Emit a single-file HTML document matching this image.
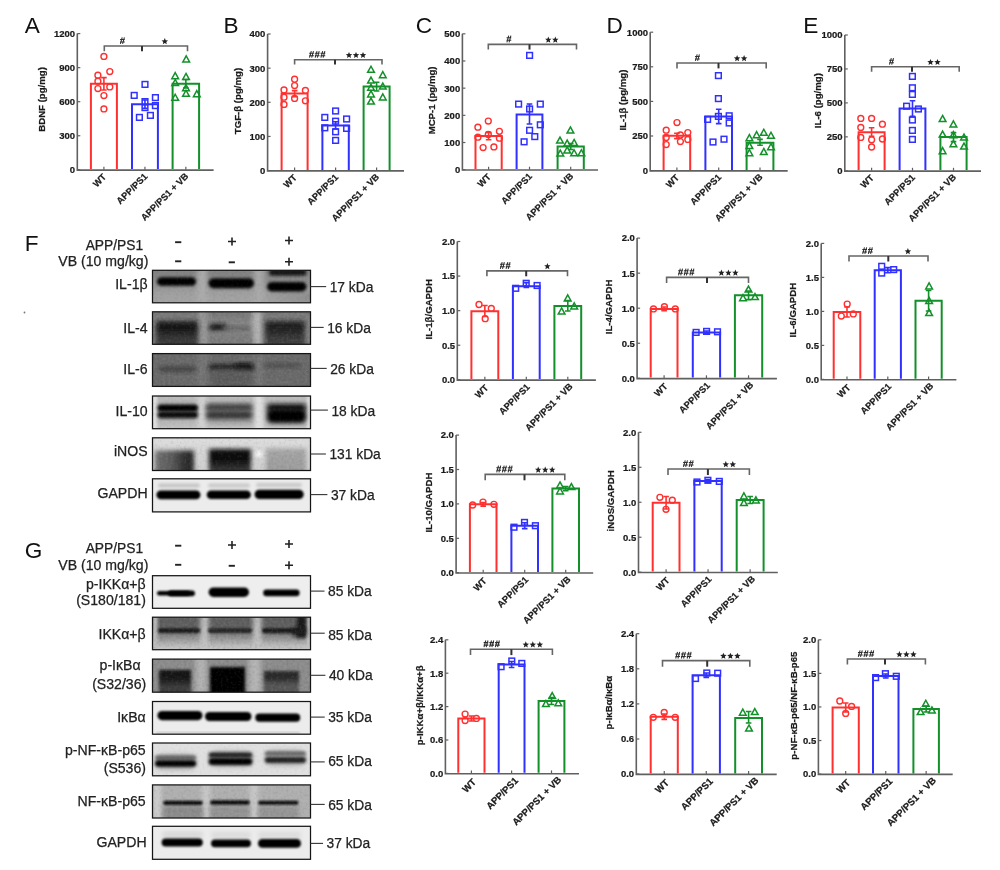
<!DOCTYPE html>
<html><head><meta charset="utf-8"><style>
html,body{margin:0;padding:0;background:#fff;}
body{width:1000px;height:870px;overflow:hidden;font-family:"Liberation Sans", sans-serif;}
svg{display:block;will-change:transform;}
</style></head><body>
<svg width="1000" height="870" viewBox="0 0 1000 870" font-family='"Liberation Sans", sans-serif'>
<rect width="1000" height="870" fill="#ffffff"/>
<text x="24.8" y="32.8" font-size="22.6" font-weight="normal" text-anchor="start" fill="#111">A</text>
<text x="223.5" y="32.8" font-size="22.6" font-weight="normal" text-anchor="start" fill="#111">B</text>
<text x="415.8" y="32.8" font-size="22.6" font-weight="normal" text-anchor="start" fill="#111">C</text>
<text x="606.4" y="32.8" font-size="22.6" font-weight="normal" text-anchor="start" fill="#111">D</text>
<text x="803.2" y="32.8" font-size="22.6" font-weight="normal" text-anchor="start" fill="#111">E</text>
<text x="24.8" y="251" font-size="22.6" font-weight="normal" text-anchor="start" fill="#111">F</text>
<text x="24.8" y="558" font-size="22.6" font-weight="normal" text-anchor="start" fill="#111">G</text>
<path d="M77.3 33.6 V170.1 H213.6" stroke="#606060" stroke-width="1.6" fill="none"/>
<line x1="77.3" y1="169.8" x2="80.3" y2="169.8" stroke="#606060" stroke-width="1.2"/>
<text x="75.1" y="173.15" font-size="9.5" font-weight="bold" text-anchor="end" fill="#1a1a1a" stroke="#1a1a1a" stroke-width="0.22">0</text>
<line x1="77.3" y1="135.75" x2="80.3" y2="135.75" stroke="#606060" stroke-width="1.2"/>
<text x="75.1" y="139.1" font-size="9.5" font-weight="bold" text-anchor="end" fill="#1a1a1a" stroke="#1a1a1a" stroke-width="0.22">300</text>
<line x1="77.3" y1="101.7" x2="80.3" y2="101.7" stroke="#606060" stroke-width="1.2"/>
<text x="75.1" y="105.05" font-size="9.5" font-weight="bold" text-anchor="end" fill="#1a1a1a" stroke="#1a1a1a" stroke-width="0.22">600</text>
<line x1="77.3" y1="67.65" x2="80.3" y2="67.65" stroke="#606060" stroke-width="1.2"/>
<text x="75.1" y="71" font-size="9.5" font-weight="bold" text-anchor="end" fill="#1a1a1a" stroke="#1a1a1a" stroke-width="0.22">900</text>
<line x1="77.3" y1="33.6" x2="80.3" y2="33.6" stroke="#606060" stroke-width="1.2"/>
<text x="75.1" y="36.95" font-size="9.5" font-weight="bold" text-anchor="end" fill="#1a1a1a" stroke="#1a1a1a" stroke-width="0.22">1200</text>
<line x1="103.9" y1="169.8" x2="103.9" y2="166.8" stroke="#606060" stroke-width="1.2"/>
<line x1="144.95" y1="169.8" x2="144.95" y2="166.8" stroke="#606060" stroke-width="1.2"/>
<line x1="185.85" y1="169.8" x2="185.85" y2="166.8" stroke="#606060" stroke-width="1.2"/>
<path d="M90.9 169.1 V83.7 H116.9 V169.1" stroke="#ff3030" stroke-width="2" fill="none"/>
<path d="M132 169.1 V104.2 H157.9 V169.1" stroke="#3030ff" stroke-width="2" fill="none"/>
<path d="M172.6 169.1 V83.7 H199.1 V169.1" stroke="#13902a" stroke-width="2" fill="none"/>
<circle cx="103.9" cy="56.4" r="2.95" fill="none" stroke="#ff3030" stroke-width="1.4"/>
<circle cx="109.8" cy="71.6" r="2.95" fill="none" stroke="#ff3030" stroke-width="1.4"/>
<circle cx="97.9" cy="75.2" r="2.95" fill="none" stroke="#ff3030" stroke-width="1.4"/>
<circle cx="97.9" cy="81.2" r="2.95" fill="none" stroke="#ff3030" stroke-width="1.4"/>
<circle cx="97.9" cy="88.6" r="2.95" fill="none" stroke="#ff3030" stroke-width="1.4"/>
<circle cx="109.8" cy="86.9" r="2.95" fill="none" stroke="#ff3030" stroke-width="1.4"/>
<circle cx="103.9" cy="95.6" r="2.95" fill="none" stroke="#ff3030" stroke-width="1.4"/>
<circle cx="103.9" cy="108.9" r="2.95" fill="none" stroke="#ff3030" stroke-width="1.4"/>
<rect x="142.15" y="81.55" width="5.7" height="5.7" fill="none" stroke="#3030ff" stroke-width="1.5"/>
<rect x="131.35" y="92.55" width="5.7" height="5.7" fill="none" stroke="#3030ff" stroke-width="1.5"/>
<rect x="152.55" y="94.75" width="5.7" height="5.7" fill="none" stroke="#3030ff" stroke-width="1.5"/>
<rect x="142.15" y="98.75" width="5.7" height="5.7" fill="none" stroke="#3030ff" stroke-width="1.5"/>
<rect x="152.55" y="102.75" width="5.7" height="5.7" fill="none" stroke="#3030ff" stroke-width="1.5"/>
<rect x="142.15" y="104.75" width="5.7" height="5.7" fill="none" stroke="#3030ff" stroke-width="1.5"/>
<rect x="136.55" y="114.55" width="5.7" height="5.7" fill="none" stroke="#3030ff" stroke-width="1.5"/>
<rect x="147.55" y="112.55" width="5.7" height="5.7" fill="none" stroke="#3030ff" stroke-width="1.5"/>
<path d="M186.2 55.84 L189.56 61.92 L182.84 61.92 Z" fill="none" stroke="#13902a" stroke-width="1.5" stroke-linejoin="miter"/>
<path d="M175.2 72.64 L178.56 78.72 L171.84 78.72 Z" fill="none" stroke="#13902a" stroke-width="1.5" stroke-linejoin="miter"/>
<path d="M186 73.44 L189.36 79.52 L182.64 79.52 Z" fill="none" stroke="#13902a" stroke-width="1.5" stroke-linejoin="miter"/>
<path d="M175.2 79.44 L178.56 85.52 L171.84 85.52 Z" fill="none" stroke="#13902a" stroke-width="1.5" stroke-linejoin="miter"/>
<path d="M186 84.64 L189.36 90.72 L182.64 90.72 Z" fill="none" stroke="#13902a" stroke-width="1.5" stroke-linejoin="miter"/>
<path d="M186 90.24 L189.36 96.32 L182.64 96.32 Z" fill="none" stroke="#13902a" stroke-width="1.5" stroke-linejoin="miter"/>
<path d="M175.2 94.24 L178.56 100.32 L171.84 100.32 Z" fill="none" stroke="#13902a" stroke-width="1.5" stroke-linejoin="miter"/>
<path d="M196.8 90.64 L200.16 96.72 L193.44 96.72 Z" fill="none" stroke="#13902a" stroke-width="1.5" stroke-linejoin="miter"/>
<path d="M103.9 77.6 V90 M101.1 77.6 H106.7 M101.1 90 H106.7" stroke="#ff3030" stroke-width="1.6" fill="none"/>
<path d="M144.95 100 V108.4 M142.15 100 H147.75 M142.15 108.4 H147.75" stroke="#3030ff" stroke-width="1.6" fill="none"/>
<path d="M185.85 79.5 V88 M183.05 79.5 H188.65 M183.05 88 H188.65" stroke="#13902a" stroke-width="1.6" fill="none"/>
<path d="M104.3 51.2 V46 H187.5 V51.2" stroke="#666666" stroke-width="1.6" fill="none"/>
<path d="M142 46 V51.2" stroke="#333" stroke-width="2" fill="none"/>
<path d="M122.2 37.3 L120.4 43.9 M124.4 37.3 L122.6 43.9 M120.05 39.4 H124.75 M120.05 41.9 H124.75" stroke="#2e2e2e" stroke-width="1.05" fill="none"/>
<polygon points="164.8,38.1 165.7,40.26 168.03,40.45 166.26,41.97 166.8,44.25 164.8,43.03 162.8,44.25 163.34,41.97 161.57,40.45 163.9,40.26" fill="#222"/>
<text x="44.7" y="99.4" font-size="9.65" font-weight="bold" text-anchor="middle" fill="#1a1a1a" transform="rotate(-90 44.7 99.4)" stroke="#1a1a1a" stroke-width="0.22">BDNF (pg/mg)</text>
<text x="106.9" y="177.5" font-size="9.3" font-weight="bold" text-anchor="end" fill="#1a1a1a" transform="rotate(-45 106.9 177.5)" stroke="#1a1a1a" stroke-width="0.22">WT</text>
<text x="148.15" y="177" font-size="9.3" font-weight="bold" text-anchor="end" fill="#1a1a1a" transform="rotate(-45 148.15 177)" stroke="#1a1a1a" stroke-width="0.22">APP/PS1</text>
<text x="189.05" y="176.8" font-size="9.3" font-weight="bold" text-anchor="end" fill="#1a1a1a" transform="rotate(-45 189.05 176.8)" stroke="#1a1a1a" stroke-width="0.22">APP/PS1 + VB</text>
<path d="M267.6 34 V170.9 H404" stroke="#606060" stroke-width="1.6" fill="none"/>
<line x1="267.6" y1="170.6" x2="270.6" y2="170.6" stroke="#606060" stroke-width="1.2"/>
<text x="265.4" y="173.95" font-size="9.5" font-weight="bold" text-anchor="end" fill="#1a1a1a" stroke="#1a1a1a" stroke-width="0.22">0</text>
<line x1="267.6" y1="136.45" x2="270.6" y2="136.45" stroke="#606060" stroke-width="1.2"/>
<text x="265.4" y="139.8" font-size="9.5" font-weight="bold" text-anchor="end" fill="#1a1a1a" stroke="#1a1a1a" stroke-width="0.22">100</text>
<line x1="267.6" y1="102.3" x2="270.6" y2="102.3" stroke="#606060" stroke-width="1.2"/>
<text x="265.4" y="105.65" font-size="9.5" font-weight="bold" text-anchor="end" fill="#1a1a1a" stroke="#1a1a1a" stroke-width="0.22">200</text>
<line x1="267.6" y1="68.15" x2="270.6" y2="68.15" stroke="#606060" stroke-width="1.2"/>
<text x="265.4" y="71.5" font-size="9.5" font-weight="bold" text-anchor="end" fill="#1a1a1a" stroke="#1a1a1a" stroke-width="0.22">300</text>
<line x1="267.6" y1="34" x2="270.6" y2="34" stroke="#606060" stroke-width="1.2"/>
<text x="265.4" y="37.35" font-size="9.5" font-weight="bold" text-anchor="end" fill="#1a1a1a" stroke="#1a1a1a" stroke-width="0.22">400</text>
<line x1="294.6" y1="170.6" x2="294.6" y2="167.6" stroke="#606060" stroke-width="1.2"/>
<line x1="335.6" y1="170.6" x2="335.6" y2="167.6" stroke="#606060" stroke-width="1.2"/>
<line x1="376.6" y1="170.6" x2="376.6" y2="167.6" stroke="#606060" stroke-width="1.2"/>
<path d="M281.6 169.9 V93.6 H307.6 V169.9" stroke="#ff3030" stroke-width="2" fill="none"/>
<path d="M322.4 169.9 V125.4 H348.8 V169.9" stroke="#3030ff" stroke-width="2" fill="none"/>
<path d="M363.6 169.9 V86.6 H389.6 V169.9" stroke="#13902a" stroke-width="2" fill="none"/>
<circle cx="294.6" cy="79.2" r="2.95" fill="none" stroke="#ff3030" stroke-width="1.4"/>
<circle cx="294.6" cy="85.6" r="2.95" fill="none" stroke="#ff3030" stroke-width="1.4"/>
<circle cx="284" cy="90" r="2.95" fill="none" stroke="#ff3030" stroke-width="1.4"/>
<circle cx="305.4" cy="90.4" r="2.95" fill="none" stroke="#ff3030" stroke-width="1.4"/>
<circle cx="284" cy="97.2" r="2.95" fill="none" stroke="#ff3030" stroke-width="1.4"/>
<circle cx="294.6" cy="98.4" r="2.95" fill="none" stroke="#ff3030" stroke-width="1.4"/>
<circle cx="305.4" cy="100.8" r="2.95" fill="none" stroke="#ff3030" stroke-width="1.4"/>
<circle cx="284" cy="104.4" r="2.95" fill="none" stroke="#ff3030" stroke-width="1.4"/>
<rect x="332.75" y="108.15" width="5.7" height="5.7" fill="none" stroke="#3030ff" stroke-width="1.5"/>
<rect x="321.95" y="114.55" width="5.7" height="5.7" fill="none" stroke="#3030ff" stroke-width="1.5"/>
<rect x="343.75" y="116.15" width="5.7" height="5.7" fill="none" stroke="#3030ff" stroke-width="1.5"/>
<rect x="332.75" y="118.35" width="5.7" height="5.7" fill="none" stroke="#3030ff" stroke-width="1.5"/>
<rect x="321.95" y="124.95" width="5.7" height="5.7" fill="none" stroke="#3030ff" stroke-width="1.5"/>
<rect x="343.75" y="125.55" width="5.7" height="5.7" fill="none" stroke="#3030ff" stroke-width="1.5"/>
<rect x="332.75" y="128.95" width="5.7" height="5.7" fill="none" stroke="#3030ff" stroke-width="1.5"/>
<rect x="332.75" y="137.55" width="5.7" height="5.7" fill="none" stroke="#3030ff" stroke-width="1.5"/>
<path d="M371 66.24 L374.36 72.32 L367.64 72.32 Z" fill="none" stroke="#13902a" stroke-width="1.5" stroke-linejoin="miter"/>
<path d="M382.8 71.64 L386.16 77.72 L379.44 77.72 Z" fill="none" stroke="#13902a" stroke-width="1.5" stroke-linejoin="miter"/>
<path d="M371 77.04 L374.36 83.12 L367.64 83.12 Z" fill="none" stroke="#13902a" stroke-width="1.5" stroke-linejoin="miter"/>
<path d="M382.8 83.04 L386.16 89.12 L379.44 89.12 Z" fill="none" stroke="#13902a" stroke-width="1.5" stroke-linejoin="miter"/>
<path d="M371 84.24 L374.36 90.32 L367.64 90.32 Z" fill="none" stroke="#13902a" stroke-width="1.5" stroke-linejoin="miter"/>
<path d="M371 90.84 L374.36 96.92 L367.64 96.92 Z" fill="none" stroke="#13902a" stroke-width="1.5" stroke-linejoin="miter"/>
<path d="M382.8 93.84 L386.16 99.92 L379.44 99.92 Z" fill="none" stroke="#13902a" stroke-width="1.5" stroke-linejoin="miter"/>
<path d="M371 98.04 L374.36 104.12 L367.64 104.12 Z" fill="none" stroke="#13902a" stroke-width="1.5" stroke-linejoin="miter"/>
<path d="M294.6 90.6 V96.6 M291.8 90.6 H297.4 M291.8 96.6 H297.4" stroke="#ff3030" stroke-width="1.6" fill="none"/>
<path d="M335.6 121.8 V129 M332.8 121.8 H338.4 M332.8 129 H338.4" stroke="#3030ff" stroke-width="1.6" fill="none"/>
<path d="M376.6 82.2 V91 M373.8 82.2 H379.4 M373.8 91 H379.4" stroke="#13902a" stroke-width="1.6" fill="none"/>
<path d="M294.6 64.6 V59.8 H382 V64.6" stroke="#666666" stroke-width="1.6" fill="none"/>
<path d="M335 59.8 V64.6" stroke="#333" stroke-width="2" fill="none"/>
<path d="M311.3 51.1 L309.5 57.7 M313.5 51.1 L311.7 57.7 M309.15 53.2 H313.85 M309.15 55.7 H313.85" stroke="#2e2e2e" stroke-width="1.05" fill="none"/>
<path d="M317 51.1 L315.2 57.7 M319.2 51.1 L317.4 57.7 M314.85 53.2 H319.55 M314.85 55.7 H319.55" stroke="#2e2e2e" stroke-width="1.05" fill="none"/>
<path d="M322.7 51.1 L320.9 57.7 M324.9 51.1 L323.1 57.7 M320.55 53.2 H325.25 M320.55 55.7 H325.25" stroke="#2e2e2e" stroke-width="1.05" fill="none"/>
<polygon points="349,51.9 349.9,54.06 352.23,54.25 350.46,55.77 351,58.05 349,56.83 347,58.05 347.54,55.77 345.77,54.25 348.1,54.06" fill="#222"/>
<polygon points="356,51.9 356.9,54.06 359.23,54.25 357.46,55.77 358,58.05 356,56.83 354,58.05 354.54,55.77 352.77,54.25 355.1,54.06" fill="#222"/>
<polygon points="363,51.9 363.9,54.06 366.23,54.25 364.46,55.77 365,58.05 363,56.83 361,58.05 361.54,55.77 359.77,54.25 362.1,54.06" fill="#222"/>
<text x="240.8" y="101" font-size="9.65" font-weight="bold" text-anchor="middle" fill="#1a1a1a" transform="rotate(-90 240.8 101)" stroke="#1a1a1a" stroke-width="0.22">TGF-β (pg/mg)</text>
<text x="297.6" y="178.3" font-size="9.3" font-weight="bold" text-anchor="end" fill="#1a1a1a" transform="rotate(-45 297.6 178.3)" stroke="#1a1a1a" stroke-width="0.22">WT</text>
<text x="338.8" y="177.8" font-size="9.3" font-weight="bold" text-anchor="end" fill="#1a1a1a" transform="rotate(-45 338.8 177.8)" stroke="#1a1a1a" stroke-width="0.22">APP/PS1</text>
<text x="379.8" y="177.6" font-size="9.3" font-weight="bold" text-anchor="end" fill="#1a1a1a" transform="rotate(-45 379.8 177.6)" stroke="#1a1a1a" stroke-width="0.22">APP/PS1 + VB</text>
<path d="M462.4 33.8 V170 H598" stroke="#606060" stroke-width="1.6" fill="none"/>
<line x1="462.4" y1="169.7" x2="465.4" y2="169.7" stroke="#606060" stroke-width="1.2"/>
<text x="460.2" y="173.05" font-size="9.5" font-weight="bold" text-anchor="end" fill="#1a1a1a" stroke="#1a1a1a" stroke-width="0.22">0</text>
<line x1="462.4" y1="142.52" x2="465.4" y2="142.52" stroke="#606060" stroke-width="1.2"/>
<text x="460.2" y="145.87" font-size="9.5" font-weight="bold" text-anchor="end" fill="#1a1a1a" stroke="#1a1a1a" stroke-width="0.22">100</text>
<line x1="462.4" y1="115.34" x2="465.4" y2="115.34" stroke="#606060" stroke-width="1.2"/>
<text x="460.2" y="118.69" font-size="9.5" font-weight="bold" text-anchor="end" fill="#1a1a1a" stroke="#1a1a1a" stroke-width="0.22">200</text>
<line x1="462.4" y1="88.16" x2="465.4" y2="88.16" stroke="#606060" stroke-width="1.2"/>
<text x="460.2" y="91.51" font-size="9.5" font-weight="bold" text-anchor="end" fill="#1a1a1a" stroke="#1a1a1a" stroke-width="0.22">300</text>
<line x1="462.4" y1="60.98" x2="465.4" y2="60.98" stroke="#606060" stroke-width="1.2"/>
<text x="460.2" y="64.33" font-size="9.5" font-weight="bold" text-anchor="end" fill="#1a1a1a" stroke="#1a1a1a" stroke-width="0.22">400</text>
<line x1="462.4" y1="33.8" x2="465.4" y2="33.8" stroke="#606060" stroke-width="1.2"/>
<text x="460.2" y="37.15" font-size="9.5" font-weight="bold" text-anchor="end" fill="#1a1a1a" stroke="#1a1a1a" stroke-width="0.22">500</text>
<line x1="488.6" y1="169.7" x2="488.6" y2="166.7" stroke="#606060" stroke-width="1.2"/>
<line x1="529.5" y1="169.7" x2="529.5" y2="166.7" stroke="#606060" stroke-width="1.2"/>
<line x1="570.7" y1="169.7" x2="570.7" y2="166.7" stroke="#606060" stroke-width="1.2"/>
<path d="M475.5 169 V136.1 H501.7 V169" stroke="#ff3030" stroke-width="2" fill="none"/>
<path d="M516.6 169 V114.5 H542.4 V169" stroke="#3030ff" stroke-width="2" fill="none"/>
<path d="M557.6 169 V146.5 H583.8 V169" stroke="#13902a" stroke-width="2" fill="none"/>
<circle cx="488.3" cy="121.1" r="2.95" fill="none" stroke="#ff3030" stroke-width="1.4"/>
<circle cx="477.9" cy="127.2" r="2.95" fill="none" stroke="#ff3030" stroke-width="1.4"/>
<circle cx="499.4" cy="131.3" r="2.95" fill="none" stroke="#ff3030" stroke-width="1.4"/>
<circle cx="488.3" cy="134.5" r="2.95" fill="none" stroke="#ff3030" stroke-width="1.4"/>
<circle cx="477.9" cy="137.2" r="2.95" fill="none" stroke="#ff3030" stroke-width="1.4"/>
<circle cx="499.4" cy="138.2" r="2.95" fill="none" stroke="#ff3030" stroke-width="1.4"/>
<circle cx="483.1" cy="147.6" r="2.95" fill="none" stroke="#ff3030" stroke-width="1.4"/>
<circle cx="493.9" cy="146.9" r="2.95" fill="none" stroke="#ff3030" stroke-width="1.4"/>
<rect x="526.75" y="52.55" width="5.7" height="5.7" fill="none" stroke="#3030ff" stroke-width="1.5"/>
<rect x="515.75" y="101.25" width="5.7" height="5.7" fill="none" stroke="#3030ff" stroke-width="1.5"/>
<rect x="537.45" y="101.25" width="5.7" height="5.7" fill="none" stroke="#3030ff" stroke-width="1.5"/>
<rect x="526.75" y="106.15" width="5.7" height="5.7" fill="none" stroke="#3030ff" stroke-width="1.5"/>
<rect x="537.45" y="121.95" width="5.7" height="5.7" fill="none" stroke="#3030ff" stroke-width="1.5"/>
<rect x="526.75" y="127.45" width="5.7" height="5.7" fill="none" stroke="#3030ff" stroke-width="1.5"/>
<rect x="531.95" y="133.75" width="5.7" height="5.7" fill="none" stroke="#3030ff" stroke-width="1.5"/>
<rect x="521.25" y="138.95" width="5.7" height="5.7" fill="none" stroke="#3030ff" stroke-width="1.5"/>
<path d="M570.4 126.94 L573.76 133.02 L567.04 133.02 Z" fill="none" stroke="#13902a" stroke-width="1.5" stroke-linejoin="miter"/>
<path d="M560 137.04 L563.36 143.12 L556.64 143.12 Z" fill="none" stroke="#13902a" stroke-width="1.5" stroke-linejoin="miter"/>
<path d="M567.2 140.04 L570.56 146.12 L563.84 146.12 Z" fill="none" stroke="#13902a" stroke-width="1.5" stroke-linejoin="miter"/>
<path d="M574.1 139.44 L577.46 145.52 L570.74 145.52 Z" fill="none" stroke="#13902a" stroke-width="1.5" stroke-linejoin="miter"/>
<path d="M567.2 146.94 L570.56 153.02 L563.84 153.02 Z" fill="none" stroke="#13902a" stroke-width="1.5" stroke-linejoin="miter"/>
<path d="M560.3 150.04 L563.66 156.12 L556.94 156.12 Z" fill="none" stroke="#13902a" stroke-width="1.5" stroke-linejoin="miter"/>
<path d="M574.1 149.74 L577.46 155.82 L570.74 155.82 Z" fill="none" stroke="#13902a" stroke-width="1.5" stroke-linejoin="miter"/>
<path d="M581.4 149.74 L584.76 155.82 L578.04 155.82 Z" fill="none" stroke="#13902a" stroke-width="1.5" stroke-linejoin="miter"/>
<path d="M488.6 132.4 V139.8 M485.8 132.4 H491.4 M485.8 139.8 H491.4" stroke="#ff3030" stroke-width="1.6" fill="none"/>
<path d="M529.5 104 V124 M526.7 104 H532.3 M526.7 124 H532.3" stroke="#3030ff" stroke-width="1.6" fill="none"/>
<path d="M570.7 143.5 V149.5 M567.9 143.5 H573.5 M567.9 149.5 H573.5" stroke="#13902a" stroke-width="1.6" fill="none"/>
<path d="M488.3 49.6 V44.4 H576.5 V49.6" stroke="#666666" stroke-width="1.6" fill="none"/>
<path d="M529.5 44.4 V49.6" stroke="#333" stroke-width="2" fill="none"/>
<path d="M508.7 35.7 L506.9 42.3 M510.9 35.7 L509.1 42.3 M506.55 37.8 H511.25 M506.55 40.3 H511.25" stroke="#2e2e2e" stroke-width="1.05" fill="none"/>
<polygon points="548.3,36.5 549.2,38.66 551.53,38.85 549.76,40.37 550.3,42.65 548.3,41.43 546.3,42.65 546.84,40.37 545.07,38.85 547.4,38.66" fill="#222"/>
<polygon points="555.3,36.5 556.2,38.66 558.53,38.85 556.76,40.37 557.3,42.65 555.3,41.43 553.3,42.65 553.84,40.37 552.07,38.85 554.4,38.66" fill="#222"/>
<text x="434.8" y="100.4" font-size="9.65" font-weight="bold" text-anchor="middle" fill="#1a1a1a" transform="rotate(-90 434.8 100.4)" stroke="#1a1a1a" stroke-width="0.22">MCP-1 (pg/mg)</text>
<text x="491.6" y="177.4" font-size="9.3" font-weight="bold" text-anchor="end" fill="#1a1a1a" transform="rotate(-45 491.6 177.4)" stroke="#1a1a1a" stroke-width="0.22">WT</text>
<text x="532.7" y="176.9" font-size="9.3" font-weight="bold" text-anchor="end" fill="#1a1a1a" transform="rotate(-45 532.7 176.9)" stroke="#1a1a1a" stroke-width="0.22">APP/PS1</text>
<text x="573.9" y="176.7" font-size="9.3" font-weight="bold" text-anchor="end" fill="#1a1a1a" transform="rotate(-45 573.9 176.7)" stroke="#1a1a1a" stroke-width="0.22">APP/PS1 + VB</text>
<path d="M650.2 32.2 V170.9 H787.7" stroke="#606060" stroke-width="1.6" fill="none"/>
<line x1="650.2" y1="170.6" x2="653.2" y2="170.6" stroke="#606060" stroke-width="1.2"/>
<text x="648" y="173.95" font-size="9.5" font-weight="bold" text-anchor="end" fill="#1a1a1a" stroke="#1a1a1a" stroke-width="0.22">0</text>
<line x1="650.2" y1="136" x2="653.2" y2="136" stroke="#606060" stroke-width="1.2"/>
<text x="648" y="139.35" font-size="9.5" font-weight="bold" text-anchor="end" fill="#1a1a1a" stroke="#1a1a1a" stroke-width="0.22">250</text>
<line x1="650.2" y1="101.4" x2="653.2" y2="101.4" stroke="#606060" stroke-width="1.2"/>
<text x="648" y="104.75" font-size="9.5" font-weight="bold" text-anchor="end" fill="#1a1a1a" stroke="#1a1a1a" stroke-width="0.22">500</text>
<line x1="650.2" y1="66.8" x2="653.2" y2="66.8" stroke="#606060" stroke-width="1.2"/>
<text x="648" y="70.15" font-size="9.5" font-weight="bold" text-anchor="end" fill="#1a1a1a" stroke="#1a1a1a" stroke-width="0.22">750</text>
<line x1="650.2" y1="32.2" x2="653.2" y2="32.2" stroke="#606060" stroke-width="1.2"/>
<text x="648" y="35.55" font-size="9.5" font-weight="bold" text-anchor="end" fill="#1a1a1a" stroke="#1a1a1a" stroke-width="0.22">1000</text>
<line x1="676.9" y1="170.6" x2="676.9" y2="167.6" stroke="#606060" stroke-width="1.2"/>
<line x1="718.7" y1="170.6" x2="718.7" y2="167.6" stroke="#606060" stroke-width="1.2"/>
<line x1="760" y1="170.6" x2="760" y2="167.6" stroke="#606060" stroke-width="1.2"/>
<path d="M663.6 169.9 V135.8 H690.2 V169.9" stroke="#ff3030" stroke-width="2" fill="none"/>
<path d="M705.4 169.9 V116.6 H732 V169.9" stroke="#3030ff" stroke-width="2" fill="none"/>
<path d="M746.6 169.9 V142.8 H773.4 V169.9" stroke="#13902a" stroke-width="2" fill="none"/>
<circle cx="677" cy="122.6" r="2.95" fill="none" stroke="#ff3030" stroke-width="1.4"/>
<circle cx="666.2" cy="130.2" r="2.95" fill="none" stroke="#ff3030" stroke-width="1.4"/>
<circle cx="687.8" cy="132.6" r="2.95" fill="none" stroke="#ff3030" stroke-width="1.4"/>
<circle cx="680.4" cy="135" r="2.95" fill="none" stroke="#ff3030" stroke-width="1.4"/>
<circle cx="666.2" cy="137.4" r="2.95" fill="none" stroke="#ff3030" stroke-width="1.4"/>
<circle cx="687.8" cy="139.4" r="2.95" fill="none" stroke="#ff3030" stroke-width="1.4"/>
<circle cx="680.4" cy="141.6" r="2.95" fill="none" stroke="#ff3030" stroke-width="1.4"/>
<circle cx="666.2" cy="144.6" r="2.95" fill="none" stroke="#ff3030" stroke-width="1.4"/>
<rect x="715.55" y="72.75" width="5.7" height="5.7" fill="none" stroke="#3030ff" stroke-width="1.5"/>
<rect x="715.55" y="95.75" width="5.7" height="5.7" fill="none" stroke="#3030ff" stroke-width="1.5"/>
<rect x="704.75" y="116.55" width="5.7" height="5.7" fill="none" stroke="#3030ff" stroke-width="1.5"/>
<rect x="715.55" y="113.55" width="5.7" height="5.7" fill="none" stroke="#3030ff" stroke-width="1.5"/>
<rect x="726.35" y="112.95" width="5.7" height="5.7" fill="none" stroke="#3030ff" stroke-width="1.5"/>
<rect x="726.35" y="120.15" width="5.7" height="5.7" fill="none" stroke="#3030ff" stroke-width="1.5"/>
<rect x="721.15" y="136.35" width="5.7" height="5.7" fill="none" stroke="#3030ff" stroke-width="1.5"/>
<rect x="710.15" y="139.15" width="5.7" height="5.7" fill="none" stroke="#3030ff" stroke-width="1.5"/>
<path d="M763.8 129.24 L767.16 135.32 L760.44 135.32 Z" fill="none" stroke="#13902a" stroke-width="1.5" stroke-linejoin="miter"/>
<path d="M756.6 131.64 L759.96 137.72 L753.24 137.72 Z" fill="none" stroke="#13902a" stroke-width="1.5" stroke-linejoin="miter"/>
<path d="M771 132.24 L774.36 138.32 L767.64 138.32 Z" fill="none" stroke="#13902a" stroke-width="1.5" stroke-linejoin="miter"/>
<path d="M749.4 134.64 L752.76 140.72 L746.04 140.72 Z" fill="none" stroke="#13902a" stroke-width="1.5" stroke-linejoin="miter"/>
<path d="M749.4 142.44 L752.76 148.52 L746.04 148.52 Z" fill="none" stroke="#13902a" stroke-width="1.5" stroke-linejoin="miter"/>
<path d="M771 143.64 L774.36 149.72 L767.64 149.72 Z" fill="none" stroke="#13902a" stroke-width="1.5" stroke-linejoin="miter"/>
<path d="M763.8 148.44 L767.16 154.52 L760.44 154.52 Z" fill="none" stroke="#13902a" stroke-width="1.5" stroke-linejoin="miter"/>
<path d="M749.4 149.64 L752.76 155.72 L746.04 155.72 Z" fill="none" stroke="#13902a" stroke-width="1.5" stroke-linejoin="miter"/>
<path d="M676.9 133.2 V138.6 M674.1 133.2 H679.7 M674.1 138.6 H679.7" stroke="#ff3030" stroke-width="1.6" fill="none"/>
<path d="M718.7 109.2 V123.6 M715.9 109.2 H721.5 M715.9 123.6 H721.5" stroke="#3030ff" stroke-width="1.6" fill="none"/>
<path d="M760 139.4 V145.2 M757.2 139.4 H762.8 M757.2 145.2 H762.8" stroke="#13902a" stroke-width="1.6" fill="none"/>
<path d="M677 68.4 V63 H766.2 V68.4" stroke="#666666" stroke-width="1.6" fill="none"/>
<path d="M718.5 63 V68.4" stroke="#333" stroke-width="2" fill="none"/>
<path d="M697.2 54.3 L695.4 60.9 M699.4 54.3 L697.6 60.9 M695.05 56.4 H699.75 M695.05 58.9 H699.75" stroke="#2e2e2e" stroke-width="1.05" fill="none"/>
<polygon points="737.1,55.1 738,57.26 740.33,57.45 738.56,58.97 739.1,61.25 737.1,60.03 735.1,61.25 735.64,58.97 733.87,57.45 736.2,57.26" fill="#222"/>
<polygon points="744.1,55.1 745,57.26 747.33,57.45 745.56,58.97 746.1,61.25 744.1,60.03 742.1,61.25 742.64,58.97 740.87,57.45 743.2,57.26" fill="#222"/>
<text x="626.2" y="100.1" font-size="9.65" font-weight="bold" text-anchor="middle" fill="#1a1a1a" transform="rotate(-90 626.2 100.1)" stroke="#1a1a1a" stroke-width="0.22">IL-1β (pg/mg)</text>
<text x="679.9" y="178.3" font-size="9.3" font-weight="bold" text-anchor="end" fill="#1a1a1a" transform="rotate(-45 679.9 178.3)" stroke="#1a1a1a" stroke-width="0.22">WT</text>
<text x="721.9" y="177.8" font-size="9.3" font-weight="bold" text-anchor="end" fill="#1a1a1a" transform="rotate(-45 721.9 177.8)" stroke="#1a1a1a" stroke-width="0.22">APP/PS1</text>
<text x="763.2" y="177.6" font-size="9.3" font-weight="bold" text-anchor="end" fill="#1a1a1a" transform="rotate(-45 763.2 177.6)" stroke="#1a1a1a" stroke-width="0.22">APP/PS1 + VB</text>
<path d="M844.8 35 V171.1 H981" stroke="#606060" stroke-width="1.6" fill="none"/>
<line x1="844.8" y1="170.8" x2="847.8" y2="170.8" stroke="#606060" stroke-width="1.2"/>
<text x="842.6" y="174.15" font-size="9.5" font-weight="bold" text-anchor="end" fill="#1a1a1a" stroke="#1a1a1a" stroke-width="0.22">0</text>
<line x1="844.8" y1="136.85" x2="847.8" y2="136.85" stroke="#606060" stroke-width="1.2"/>
<text x="842.6" y="140.2" font-size="9.5" font-weight="bold" text-anchor="end" fill="#1a1a1a" stroke="#1a1a1a" stroke-width="0.22">250</text>
<line x1="844.8" y1="102.9" x2="847.8" y2="102.9" stroke="#606060" stroke-width="1.2"/>
<text x="842.6" y="106.25" font-size="9.5" font-weight="bold" text-anchor="end" fill="#1a1a1a" stroke="#1a1a1a" stroke-width="0.22">500</text>
<line x1="844.8" y1="68.95" x2="847.8" y2="68.95" stroke="#606060" stroke-width="1.2"/>
<text x="842.6" y="72.3" font-size="9.5" font-weight="bold" text-anchor="end" fill="#1a1a1a" stroke="#1a1a1a" stroke-width="0.22">750</text>
<line x1="844.8" y1="35" x2="847.8" y2="35" stroke="#606060" stroke-width="1.2"/>
<text x="842.6" y="38.35" font-size="9.5" font-weight="bold" text-anchor="end" fill="#1a1a1a" stroke="#1a1a1a" stroke-width="0.22">1000</text>
<line x1="871.6" y1="170.8" x2="871.6" y2="167.8" stroke="#606060" stroke-width="1.2"/>
<line x1="912.5" y1="170.8" x2="912.5" y2="167.8" stroke="#606060" stroke-width="1.2"/>
<line x1="953.5" y1="170.8" x2="953.5" y2="167.8" stroke="#606060" stroke-width="1.2"/>
<path d="M858.6 170.1 V132.2 H884.6 V170.1" stroke="#ff3030" stroke-width="2" fill="none"/>
<path d="M899.6 170.1 V108.4 H925.4 V170.1" stroke="#3030ff" stroke-width="2" fill="none"/>
<path d="M940.4 170.1 V137 H966.6 V170.1" stroke="#13902a" stroke-width="2" fill="none"/>
<circle cx="860.8" cy="118.4" r="2.95" fill="none" stroke="#ff3030" stroke-width="1.4"/>
<circle cx="871.6" cy="118.4" r="2.95" fill="none" stroke="#ff3030" stroke-width="1.4"/>
<circle cx="882.4" cy="124.2" r="2.95" fill="none" stroke="#ff3030" stroke-width="1.4"/>
<circle cx="860.8" cy="127.4" r="2.95" fill="none" stroke="#ff3030" stroke-width="1.4"/>
<circle cx="860.8" cy="137.4" r="2.95" fill="none" stroke="#ff3030" stroke-width="1.4"/>
<circle cx="871.6" cy="139.8" r="2.95" fill="none" stroke="#ff3030" stroke-width="1.4"/>
<circle cx="882.4" cy="139" r="2.95" fill="none" stroke="#ff3030" stroke-width="1.4"/>
<circle cx="871.6" cy="147" r="2.95" fill="none" stroke="#ff3030" stroke-width="1.4"/>
<rect x="909.55" y="73.55" width="5.7" height="5.7" fill="none" stroke="#3030ff" stroke-width="1.5"/>
<rect x="909.55" y="84.95" width="5.7" height="5.7" fill="none" stroke="#3030ff" stroke-width="1.5"/>
<rect x="909.55" y="91.55" width="5.7" height="5.7" fill="none" stroke="#3030ff" stroke-width="1.5"/>
<rect x="903.75" y="103.35" width="5.7" height="5.7" fill="none" stroke="#3030ff" stroke-width="1.5"/>
<rect x="915.55" y="106.15" width="5.7" height="5.7" fill="none" stroke="#3030ff" stroke-width="1.5"/>
<rect x="909.55" y="117.15" width="5.7" height="5.7" fill="none" stroke="#3030ff" stroke-width="1.5"/>
<rect x="909.55" y="127.55" width="5.7" height="5.7" fill="none" stroke="#3030ff" stroke-width="1.5"/>
<rect x="909.55" y="136.55" width="5.7" height="5.7" fill="none" stroke="#3030ff" stroke-width="1.5"/>
<path d="M942.6 115.44 L945.96 121.52 L939.24 121.52 Z" fill="none" stroke="#13902a" stroke-width="1.5" stroke-linejoin="miter"/>
<path d="M953.4 120.84 L956.76 126.92 L950.04 126.92 Z" fill="none" stroke="#13902a" stroke-width="1.5" stroke-linejoin="miter"/>
<path d="M942.6 131.04 L945.96 137.12 L939.24 137.12 Z" fill="none" stroke="#13902a" stroke-width="1.5" stroke-linejoin="miter"/>
<path d="M953.4 131.64 L956.76 137.72 L950.04 137.72 Z" fill="none" stroke="#13902a" stroke-width="1.5" stroke-linejoin="miter"/>
<path d="M964 134.04 L967.36 140.12 L960.64 140.12 Z" fill="none" stroke="#13902a" stroke-width="1.5" stroke-linejoin="miter"/>
<path d="M953.4 140.64 L956.76 146.72 L950.04 146.72 Z" fill="none" stroke="#13902a" stroke-width="1.5" stroke-linejoin="miter"/>
<path d="M964 143.04 L967.36 149.12 L960.64 149.12 Z" fill="none" stroke="#13902a" stroke-width="1.5" stroke-linejoin="miter"/>
<path d="M942.6 147.64 L945.96 153.72 L939.24 153.72 Z" fill="none" stroke="#13902a" stroke-width="1.5" stroke-linejoin="miter"/>
<path d="M871.6 127.8 V136.4 M868.8 127.8 H874.4 M868.8 136.4 H874.4" stroke="#ff3030" stroke-width="1.6" fill="none"/>
<path d="M912.5 100.8 V116.4 M909.7 100.8 H915.3 M909.7 116.4 H915.3" stroke="#3030ff" stroke-width="1.6" fill="none"/>
<path d="M953.5 132.6 V141.6 M950.7 132.6 H956.3 M950.7 141.6 H956.3" stroke="#13902a" stroke-width="1.6" fill="none"/>
<path d="M871.6 71.8 V66.8 H959.2 V71.8" stroke="#666666" stroke-width="1.6" fill="none"/>
<path d="M912 66.8 V71.8" stroke="#333" stroke-width="2" fill="none"/>
<path d="M891.3 58.1 L889.5 64.7 M893.5 58.1 L891.7 64.7 M889.15 60.2 H893.85 M889.15 62.7 H893.85" stroke="#2e2e2e" stroke-width="1.05" fill="none"/>
<polygon points="930.5,58.9 931.4,61.06 933.73,61.25 931.96,62.77 932.5,65.05 930.5,63.83 928.5,65.05 929.04,62.77 927.27,61.25 929.6,61.06" fill="#222"/>
<polygon points="937.5,58.9 938.4,61.06 940.73,61.25 938.96,62.77 939.5,65.05 937.5,63.83 935.5,65.05 936.04,62.77 934.27,61.25 936.6,61.06" fill="#222"/>
<text x="821" y="100.6" font-size="9.65" font-weight="bold" text-anchor="middle" fill="#1a1a1a" transform="rotate(-90 821 100.6)" stroke="#1a1a1a" stroke-width="0.22">IL-6 (pg/mg)</text>
<text x="874.6" y="178.5" font-size="9.3" font-weight="bold" text-anchor="end" fill="#1a1a1a" transform="rotate(-45 874.6 178.5)" stroke="#1a1a1a" stroke-width="0.22">WT</text>
<text x="915.7" y="178" font-size="9.3" font-weight="bold" text-anchor="end" fill="#1a1a1a" transform="rotate(-45 915.7 178)" stroke="#1a1a1a" stroke-width="0.22">APP/PS1</text>
<text x="956.7" y="177.8" font-size="9.3" font-weight="bold" text-anchor="end" fill="#1a1a1a" transform="rotate(-45 956.7 177.8)" stroke="#1a1a1a" stroke-width="0.22">APP/PS1 + VB</text>
<path d="M457.3 241.5 V380.1 H595.9" stroke="#606060" stroke-width="1.6" fill="none"/>
<line x1="457.3" y1="379.8" x2="460.3" y2="379.8" stroke="#606060" stroke-width="1.2"/>
<text x="455.1" y="383.15" font-size="9.5" font-weight="bold" text-anchor="end" fill="#1a1a1a" stroke="#1a1a1a" stroke-width="0.22">0.0</text>
<line x1="457.3" y1="345.23" x2="460.3" y2="345.23" stroke="#606060" stroke-width="1.2"/>
<text x="455.1" y="348.58" font-size="9.5" font-weight="bold" text-anchor="end" fill="#1a1a1a" stroke="#1a1a1a" stroke-width="0.22">0.5</text>
<line x1="457.3" y1="310.65" x2="460.3" y2="310.65" stroke="#606060" stroke-width="1.2"/>
<text x="455.1" y="314" font-size="9.5" font-weight="bold" text-anchor="end" fill="#1a1a1a" stroke="#1a1a1a" stroke-width="0.22">1.0</text>
<line x1="457.3" y1="276.07" x2="460.3" y2="276.07" stroke="#606060" stroke-width="1.2"/>
<text x="455.1" y="279.43" font-size="9.5" font-weight="bold" text-anchor="end" fill="#1a1a1a" stroke="#1a1a1a" stroke-width="0.22">1.5</text>
<line x1="457.3" y1="241.5" x2="460.3" y2="241.5" stroke="#606060" stroke-width="1.2"/>
<text x="455.1" y="244.85" font-size="9.5" font-weight="bold" text-anchor="end" fill="#1a1a1a" stroke="#1a1a1a" stroke-width="0.22">2.0</text>
<line x1="484.85" y1="379.8" x2="484.85" y2="376.8" stroke="#606060" stroke-width="1.2"/>
<line x1="526.3" y1="379.8" x2="526.3" y2="376.8" stroke="#606060" stroke-width="1.2"/>
<line x1="567.8" y1="379.8" x2="567.8" y2="376.8" stroke="#606060" stroke-width="1.2"/>
<path d="M471.4 379.1 V311.3 H498.3 V379.1" stroke="#ff3030" stroke-width="2" fill="none"/>
<path d="M512.9 379.1 V286.2 H539.7 V379.1" stroke="#3030ff" stroke-width="2" fill="none"/>
<path d="M554.4 379.1 V306 H581.2 V379.1" stroke="#13902a" stroke-width="2" fill="none"/>
<circle cx="479" cy="304.5" r="2.95" fill="none" stroke="#ff3030" stroke-width="1.4"/>
<circle cx="491.3" cy="308.4" r="2.95" fill="none" stroke="#ff3030" stroke-width="1.4"/>
<circle cx="485.2" cy="318.7" r="2.95" fill="none" stroke="#ff3030" stroke-width="1.4"/>
<rect x="512.85" y="285.45" width="5.7" height="5.7" fill="none" stroke="#3030ff" stroke-width="1.5"/>
<rect x="523.35" y="280.45" width="5.7" height="5.7" fill="none" stroke="#3030ff" stroke-width="1.5"/>
<rect x="534.25" y="282.65" width="5.7" height="5.7" fill="none" stroke="#3030ff" stroke-width="1.5"/>
<path d="M567.7 294.84 L571.06 300.92 L564.34 300.92 Z" fill="none" stroke="#13902a" stroke-width="1.5" stroke-linejoin="miter"/>
<path d="M574.2 302.84 L577.56 308.92 L570.84 308.92 Z" fill="none" stroke="#13902a" stroke-width="1.5" stroke-linejoin="miter"/>
<path d="M561.6 307.94 L564.96 314.02 L558.24 314.02 Z" fill="none" stroke="#13902a" stroke-width="1.5" stroke-linejoin="miter"/>
<path d="M484.85 305.5 V316.5 M482.05 305.5 H487.65 M482.05 316.5 H487.65" stroke="#ff3030" stroke-width="1.6" fill="none"/>
<path d="M526.3 282.6 V287.4 M523.5 282.6 H529.1 M523.5 287.4 H529.1" stroke="#3030ff" stroke-width="1.6" fill="none"/>
<path d="M567.8 300.5 V311 M565 300.5 H570.6 M565 311 H570.6" stroke="#13902a" stroke-width="1.6" fill="none"/>
<path d="M486.9 276.3 V270.9 H567.5 V276.3" stroke="#666666" stroke-width="1.6" fill="none"/>
<path d="M526.2 270.9 V276.3" stroke="#333" stroke-width="2" fill="none"/>
<path d="M502.15 262.2 L500.35 268.8 M504.35 262.2 L502.55 268.8 M500 264.3 H504.7 M500 266.8 H504.7" stroke="#2e2e2e" stroke-width="1.05" fill="none"/>
<path d="M507.85 262.2 L506.05 268.8 M510.05 262.2 L508.25 268.8 M505.7 264.3 H510.4 M505.7 266.8 H510.4" stroke="#2e2e2e" stroke-width="1.05" fill="none"/>
<polygon points="547.4,263 548.3,265.16 550.63,265.35 548.86,266.87 549.4,269.15 547.4,267.93 545.4,269.15 545.94,266.87 544.17,265.35 546.5,265.16" fill="#222"/>
<text x="432" y="309.3" font-size="9.65" font-weight="bold" text-anchor="middle" fill="#1a1a1a" transform="rotate(-90 432 309.3)" stroke="#1a1a1a" stroke-width="0.22">IL-1β/GAPDH</text>
<text x="489.05" y="388.5" font-size="9.3" font-weight="bold" text-anchor="end" fill="#1a1a1a" transform="rotate(-45 489.05 388.5)" stroke="#1a1a1a" stroke-width="0.22">WT</text>
<text x="530.5" y="387.5" font-size="9.3" font-weight="bold" text-anchor="end" fill="#1a1a1a" transform="rotate(-45 530.5 387.5)" stroke="#1a1a1a" stroke-width="0.22">APP/PS1</text>
<text x="573.3" y="387" font-size="9.3" font-weight="bold" text-anchor="end" fill="#1a1a1a" transform="rotate(-45 573.3 387)" stroke="#1a1a1a" stroke-width="0.22">APP/PS1 + VB</text>
<path d="M637.1 238.1 V378.6 H776.9" stroke="#606060" stroke-width="1.6" fill="none"/>
<line x1="637.1" y1="378.3" x2="640.1" y2="378.3" stroke="#606060" stroke-width="1.2"/>
<text x="634.9" y="381.65" font-size="9.5" font-weight="bold" text-anchor="end" fill="#1a1a1a" stroke="#1a1a1a" stroke-width="0.22">0.0</text>
<line x1="637.1" y1="343.25" x2="640.1" y2="343.25" stroke="#606060" stroke-width="1.2"/>
<text x="634.9" y="346.6" font-size="9.5" font-weight="bold" text-anchor="end" fill="#1a1a1a" stroke="#1a1a1a" stroke-width="0.22">0.5</text>
<line x1="637.1" y1="308.2" x2="640.1" y2="308.2" stroke="#606060" stroke-width="1.2"/>
<text x="634.9" y="311.55" font-size="9.5" font-weight="bold" text-anchor="end" fill="#1a1a1a" stroke="#1a1a1a" stroke-width="0.22">1.0</text>
<line x1="637.1" y1="273.15" x2="640.1" y2="273.15" stroke="#606060" stroke-width="1.2"/>
<text x="634.9" y="276.5" font-size="9.5" font-weight="bold" text-anchor="end" fill="#1a1a1a" stroke="#1a1a1a" stroke-width="0.22">1.5</text>
<line x1="637.1" y1="238.1" x2="640.1" y2="238.1" stroke="#606060" stroke-width="1.2"/>
<text x="634.9" y="241.45" font-size="9.5" font-weight="bold" text-anchor="end" fill="#1a1a1a" stroke="#1a1a1a" stroke-width="0.22">2.0</text>
<line x1="664.1" y1="378.3" x2="664.1" y2="375.3" stroke="#606060" stroke-width="1.2"/>
<line x1="706.45" y1="378.3" x2="706.45" y2="375.3" stroke="#606060" stroke-width="1.2"/>
<line x1="748.55" y1="378.3" x2="748.55" y2="375.3" stroke="#606060" stroke-width="1.2"/>
<path d="M650.7 377.6 V308.9 H677.5 V377.6" stroke="#ff3030" stroke-width="2" fill="none"/>
<path d="M692.8 377.6 V332.4 H720.1 V377.6" stroke="#3030ff" stroke-width="2" fill="none"/>
<path d="M734.9 377.6 V295.3 H762.2 V377.6" stroke="#13902a" stroke-width="2" fill="none"/>
<circle cx="653.5" cy="308.9" r="2.95" fill="none" stroke="#ff3030" stroke-width="1.4"/>
<circle cx="664.4" cy="306.7" r="2.95" fill="none" stroke="#ff3030" stroke-width="1.4"/>
<circle cx="675.3" cy="308.9" r="2.95" fill="none" stroke="#ff3030" stroke-width="1.4"/>
<rect x="693.25" y="329.55" width="5.7" height="5.7" fill="none" stroke="#3030ff" stroke-width="1.5"/>
<rect x="703.75" y="328.55" width="5.7" height="5.7" fill="none" stroke="#3030ff" stroke-width="1.5"/>
<rect x="714.65" y="328.95" width="5.7" height="5.7" fill="none" stroke="#3030ff" stroke-width="1.5"/>
<path d="M748.5 286.04 L751.86 292.12 L745.14 292.12 Z" fill="none" stroke="#13902a" stroke-width="1.5" stroke-linejoin="miter"/>
<path d="M743 294.64 L746.36 300.72 L739.64 300.72 Z" fill="none" stroke="#13902a" stroke-width="1.5" stroke-linejoin="miter"/>
<path d="M755 293.54 L758.36 299.62 L751.64 299.62 Z" fill="none" stroke="#13902a" stroke-width="1.5" stroke-linejoin="miter"/>
<path d="M664.1 307 V310.8 M661.3 307 H666.9 M661.3 310.8 H666.9" stroke="#ff3030" stroke-width="1.6" fill="none"/>
<path d="M706.45 331 V333.8 M703.65 331 H709.25 M703.65 333.8 H709.25" stroke="#3030ff" stroke-width="1.6" fill="none"/>
<path d="M748.55 291 V299.6 M745.75 291 H751.35 M745.75 299.6 H751.35" stroke="#13902a" stroke-width="1.6" fill="none"/>
<path d="M666.6 282.9 V277.4 H748.5 V282.9" stroke="#666666" stroke-width="1.6" fill="none"/>
<path d="M707 277.4 V282.9" stroke="#333" stroke-width="2" fill="none"/>
<path d="M680.3 268.7 L678.5 275.3 M682.5 268.7 L680.7 275.3 M678.15 270.8 H682.85 M678.15 273.3 H682.85" stroke="#2e2e2e" stroke-width="1.05" fill="none"/>
<path d="M686 268.7 L684.2 275.3 M688.2 268.7 L686.4 275.3 M683.85 270.8 H688.55 M683.85 273.3 H688.55" stroke="#2e2e2e" stroke-width="1.05" fill="none"/>
<path d="M691.7 268.7 L689.9 275.3 M693.9 268.7 L692.1 275.3 M689.55 270.8 H694.25 M689.55 273.3 H694.25" stroke="#2e2e2e" stroke-width="1.05" fill="none"/>
<polygon points="721.4,269.5 722.3,271.66 724.63,271.85 722.86,273.37 723.4,275.65 721.4,274.43 719.4,275.65 719.94,273.37 718.17,271.85 720.5,271.66" fill="#222"/>
<polygon points="728.4,269.5 729.3,271.66 731.63,271.85 729.86,273.37 730.4,275.65 728.4,274.43 726.4,275.65 726.94,273.37 725.17,271.85 727.5,271.66" fill="#222"/>
<polygon points="735.4,269.5 736.3,271.66 738.63,271.85 736.86,273.37 737.4,275.65 735.4,274.43 733.4,275.65 733.94,273.37 732.17,271.85 734.5,271.66" fill="#222"/>
<text x="612" y="306.9" font-size="9.65" font-weight="bold" text-anchor="middle" fill="#1a1a1a" transform="rotate(-90 612 306.9)" stroke="#1a1a1a" stroke-width="0.22">IL-4/GAPDH</text>
<text x="668.3" y="387" font-size="9.3" font-weight="bold" text-anchor="end" fill="#1a1a1a" transform="rotate(-45 668.3 387)" stroke="#1a1a1a" stroke-width="0.22">WT</text>
<text x="710.65" y="386" font-size="9.3" font-weight="bold" text-anchor="end" fill="#1a1a1a" transform="rotate(-45 710.65 386)" stroke="#1a1a1a" stroke-width="0.22">APP/PS1</text>
<text x="754.05" y="385.5" font-size="9.3" font-weight="bold" text-anchor="end" fill="#1a1a1a" transform="rotate(-45 754.05 385.5)" stroke="#1a1a1a" stroke-width="0.22">APP/PS1 + VB</text>
<path d="M821.2 243.4 V379.7 H956.4" stroke="#606060" stroke-width="1.6" fill="none"/>
<line x1="821.2" y1="379.4" x2="824.2" y2="379.4" stroke="#606060" stroke-width="1.2"/>
<text x="819" y="382.75" font-size="9.5" font-weight="bold" text-anchor="end" fill="#1a1a1a" stroke="#1a1a1a" stroke-width="0.22">0.0</text>
<line x1="821.2" y1="345.4" x2="824.2" y2="345.4" stroke="#606060" stroke-width="1.2"/>
<text x="819" y="348.75" font-size="9.5" font-weight="bold" text-anchor="end" fill="#1a1a1a" stroke="#1a1a1a" stroke-width="0.22">0.5</text>
<line x1="821.2" y1="311.4" x2="824.2" y2="311.4" stroke="#606060" stroke-width="1.2"/>
<text x="819" y="314.75" font-size="9.5" font-weight="bold" text-anchor="end" fill="#1a1a1a" stroke="#1a1a1a" stroke-width="0.22">1.0</text>
<line x1="821.2" y1="277.4" x2="824.2" y2="277.4" stroke="#606060" stroke-width="1.2"/>
<text x="819" y="280.75" font-size="9.5" font-weight="bold" text-anchor="end" fill="#1a1a1a" stroke="#1a1a1a" stroke-width="0.22">1.5</text>
<line x1="821.2" y1="243.4" x2="824.2" y2="243.4" stroke="#606060" stroke-width="1.2"/>
<text x="819" y="246.75" font-size="9.5" font-weight="bold" text-anchor="end" fill="#1a1a1a" stroke="#1a1a1a" stroke-width="0.22">2.0</text>
<line x1="847" y1="379.4" x2="847" y2="376.4" stroke="#606060" stroke-width="1.2"/>
<line x1="887.8" y1="379.4" x2="887.8" y2="376.4" stroke="#606060" stroke-width="1.2"/>
<line x1="928.6" y1="379.4" x2="928.6" y2="376.4" stroke="#606060" stroke-width="1.2"/>
<path d="M833.7 378.7 V312.1 H860.3 V378.7" stroke="#ff3030" stroke-width="2" fill="none"/>
<path d="M874.7 378.7 V270.2 H900.9 V378.7" stroke="#3030ff" stroke-width="2" fill="none"/>
<path d="M915.5 378.7 V300.8 H941.7 V378.7" stroke="#13902a" stroke-width="2" fill="none"/>
<circle cx="847.2" cy="304.1" r="2.95" fill="none" stroke="#ff3030" stroke-width="1.4"/>
<circle cx="841.3" cy="316.1" r="2.95" fill="none" stroke="#ff3030" stroke-width="1.4"/>
<circle cx="853.3" cy="313.9" r="2.95" fill="none" stroke="#ff3030" stroke-width="1.4"/>
<rect x="878.85" y="263.45" width="5.7" height="5.7" fill="none" stroke="#3030ff" stroke-width="1.5"/>
<rect x="878.85" y="270.25" width="5.7" height="5.7" fill="none" stroke="#3030ff" stroke-width="1.5"/>
<rect x="890.85" y="266.75" width="5.7" height="5.7" fill="none" stroke="#3030ff" stroke-width="1.5"/>
<path d="M929.1 282.84 L932.46 288.92 L925.74 288.92 Z" fill="none" stroke="#13902a" stroke-width="1.5" stroke-linejoin="miter"/>
<path d="M929.1 297.44 L932.46 303.52 L925.74 303.52 Z" fill="none" stroke="#13902a" stroke-width="1.5" stroke-linejoin="miter"/>
<path d="M929.1 309.44 L932.46 315.52 L925.74 315.52 Z" fill="none" stroke="#13902a" stroke-width="1.5" stroke-linejoin="miter"/>
<path d="M847 307 V317 M844.2 307 H849.8 M844.2 317 H849.8" stroke="#ff3030" stroke-width="1.6" fill="none"/>
<path d="M887.8 267.6 V272.8 M885 267.6 H890.6 M885 272.8 H890.6" stroke="#3030ff" stroke-width="1.6" fill="none"/>
<path d="M928.6 290.5 V311 M925.8 290.5 H931.4 M925.8 311 H931.4" stroke="#13902a" stroke-width="1.6" fill="none"/>
<path d="M849 261.5 V256 H928 V261.5" stroke="#666666" stroke-width="1.6" fill="none"/>
<path d="M888.3 256 V261.5" stroke="#333" stroke-width="2" fill="none"/>
<path d="M864.45 247.3 L862.65 253.9 M866.65 247.3 L864.85 253.9 M862.3 249.4 H867 M862.3 251.9 H867" stroke="#2e2e2e" stroke-width="1.05" fill="none"/>
<path d="M870.15 247.3 L868.35 253.9 M872.35 247.3 L870.55 253.9 M868 249.4 H872.7 M868 251.9 H872.7" stroke="#2e2e2e" stroke-width="1.05" fill="none"/>
<polygon points="907.9,248.1 908.8,250.26 911.13,250.45 909.36,251.97 909.9,254.25 907.9,253.03 905.9,254.25 906.44,251.97 904.67,250.45 907,250.26" fill="#222"/>
<text x="795.6" y="310.1" font-size="9.65" font-weight="bold" text-anchor="middle" fill="#1a1a1a" transform="rotate(-90 795.6 310.1)" stroke="#1a1a1a" stroke-width="0.22">IL-6/GAPDH</text>
<text x="851.2" y="388.1" font-size="9.3" font-weight="bold" text-anchor="end" fill="#1a1a1a" transform="rotate(-45 851.2 388.1)" stroke="#1a1a1a" stroke-width="0.22">WT</text>
<text x="892" y="387.1" font-size="9.3" font-weight="bold" text-anchor="end" fill="#1a1a1a" transform="rotate(-45 892 387.1)" stroke="#1a1a1a" stroke-width="0.22">APP/PS1</text>
<text x="934.1" y="386.6" font-size="9.3" font-weight="bold" text-anchor="end" fill="#1a1a1a" transform="rotate(-45 934.1 386.6)" stroke="#1a1a1a" stroke-width="0.22">APP/PS1 + VB</text>
<path d="M456.1 435.1 V573 H593.2" stroke="#606060" stroke-width="1.6" fill="none"/>
<line x1="456.1" y1="572.7" x2="459.1" y2="572.7" stroke="#606060" stroke-width="1.2"/>
<text x="453.9" y="576.05" font-size="9.5" font-weight="bold" text-anchor="end" fill="#1a1a1a" stroke="#1a1a1a" stroke-width="0.22">0.0</text>
<line x1="456.1" y1="538.3" x2="459.1" y2="538.3" stroke="#606060" stroke-width="1.2"/>
<text x="453.9" y="541.65" font-size="9.5" font-weight="bold" text-anchor="end" fill="#1a1a1a" stroke="#1a1a1a" stroke-width="0.22">0.5</text>
<line x1="456.1" y1="503.9" x2="459.1" y2="503.9" stroke="#606060" stroke-width="1.2"/>
<text x="453.9" y="507.25" font-size="9.5" font-weight="bold" text-anchor="end" fill="#1a1a1a" stroke="#1a1a1a" stroke-width="0.22">1.0</text>
<line x1="456.1" y1="469.5" x2="459.1" y2="469.5" stroke="#606060" stroke-width="1.2"/>
<text x="453.9" y="472.85" font-size="9.5" font-weight="bold" text-anchor="end" fill="#1a1a1a" stroke="#1a1a1a" stroke-width="0.22">1.5</text>
<line x1="456.1" y1="435.1" x2="459.1" y2="435.1" stroke="#606060" stroke-width="1.2"/>
<text x="453.9" y="438.45" font-size="9.5" font-weight="bold" text-anchor="end" fill="#1a1a1a" stroke="#1a1a1a" stroke-width="0.22">2.0</text>
<line x1="483.2" y1="572.7" x2="483.2" y2="569.7" stroke="#606060" stroke-width="1.2"/>
<line x1="524.7" y1="572.7" x2="524.7" y2="569.7" stroke="#606060" stroke-width="1.2"/>
<line x1="565.7" y1="572.7" x2="565.7" y2="569.7" stroke="#606060" stroke-width="1.2"/>
<path d="M469.9 572 V504.3 H496.5 V572" stroke="#ff3030" stroke-width="2" fill="none"/>
<path d="M511.4 572 V525.7 H538 V572" stroke="#3030ff" stroke-width="2" fill="none"/>
<path d="M552.4 572 V488.6 H579 V572" stroke="#13902a" stroke-width="2" fill="none"/>
<circle cx="472.7" cy="505" r="2.95" fill="none" stroke="#ff3030" stroke-width="1.4"/>
<circle cx="483" cy="502.1" r="2.95" fill="none" stroke="#ff3030" stroke-width="1.4"/>
<circle cx="493.9" cy="504.3" r="2.95" fill="none" stroke="#ff3030" stroke-width="1.4"/>
<rect x="511.15" y="524.35" width="5.7" height="5.7" fill="none" stroke="#3030ff" stroke-width="1.5"/>
<rect x="521.65" y="519.55" width="5.7" height="5.7" fill="none" stroke="#3030ff" stroke-width="1.5"/>
<rect x="532.55" y="522.85" width="5.7" height="5.7" fill="none" stroke="#3030ff" stroke-width="1.5"/>
<path d="M560 481.94 L563.36 488.02 L556.64 488.02 Z" fill="none" stroke="#13902a" stroke-width="1.5" stroke-linejoin="miter"/>
<path d="M560 487.84 L563.36 493.92 L556.64 493.92 Z" fill="none" stroke="#13902a" stroke-width="1.5" stroke-linejoin="miter"/>
<path d="M571.4 483.54 L574.76 489.62 L568.04 489.62 Z" fill="none" stroke="#13902a" stroke-width="1.5" stroke-linejoin="miter"/>
<path d="M483.2 502.5 V506.1 M480.4 502.5 H486 M480.4 506.1 H486" stroke="#ff3030" stroke-width="1.6" fill="none"/>
<path d="M524.7 522.8 V528.6 M521.9 522.8 H527.5 M521.9 528.6 H527.5" stroke="#3030ff" stroke-width="1.6" fill="none"/>
<path d="M565.7 486.6 V490.6 M562.9 486.6 H568.5 M562.9 490.6 H568.5" stroke="#13902a" stroke-width="1.6" fill="none"/>
<path d="M485.2 480.3 V474.4 H564.8 V480.3" stroke="#666666" stroke-width="1.6" fill="none"/>
<path d="M524.5 474.4 V480.3" stroke="#333" stroke-width="2" fill="none"/>
<path d="M498.5 465.7 L496.7 472.3 M500.7 465.7 L498.9 472.3 M496.35 467.8 H501.05 M496.35 470.3 H501.05" stroke="#2e2e2e" stroke-width="1.05" fill="none"/>
<path d="M504.2 465.7 L502.4 472.3 M506.4 465.7 L504.6 472.3 M502.05 467.8 H506.75 M502.05 470.3 H506.75" stroke="#2e2e2e" stroke-width="1.05" fill="none"/>
<path d="M509.9 465.7 L508.1 472.3 M512.1 465.7 L510.3 472.3 M507.75 467.8 H512.45 M507.75 470.3 H512.45" stroke="#2e2e2e" stroke-width="1.05" fill="none"/>
<polygon points="538.2,466.5 539.1,468.66 541.43,468.85 539.66,470.37 540.2,472.65 538.2,471.43 536.2,472.65 536.74,470.37 534.97,468.85 537.3,468.66" fill="#222"/>
<polygon points="545.2,466.5 546.1,468.66 548.43,468.85 546.66,470.37 547.2,472.65 545.2,471.43 543.2,472.65 543.74,470.37 541.97,468.85 544.3,468.66" fill="#222"/>
<polygon points="552.2,466.5 553.1,468.66 555.43,468.85 553.66,470.37 554.2,472.65 552.2,471.43 550.2,472.65 550.74,470.37 548.97,468.85 551.3,468.66" fill="#222"/>
<text x="431.8" y="502.6" font-size="9.65" font-weight="bold" text-anchor="middle" fill="#1a1a1a" transform="rotate(-90 431.8 502.6)" stroke="#1a1a1a" stroke-width="0.22">IL-10/GAPDH</text>
<text x="487.4" y="581.4" font-size="9.3" font-weight="bold" text-anchor="end" fill="#1a1a1a" transform="rotate(-45 487.4 581.4)" stroke="#1a1a1a" stroke-width="0.22">WT</text>
<text x="528.9" y="580.4" font-size="9.3" font-weight="bold" text-anchor="end" fill="#1a1a1a" transform="rotate(-45 528.9 580.4)" stroke="#1a1a1a" stroke-width="0.22">APP/PS1</text>
<text x="571.2" y="579.9" font-size="9.3" font-weight="bold" text-anchor="end" fill="#1a1a1a" transform="rotate(-45 571.2 579.9)" stroke="#1a1a1a" stroke-width="0.22">APP/PS1 + VB</text>
<path d="M638.5 432.3 V572.5 H777.8" stroke="#606060" stroke-width="1.6" fill="none"/>
<line x1="638.5" y1="572.2" x2="641.5" y2="572.2" stroke="#606060" stroke-width="1.2"/>
<text x="636.3" y="575.55" font-size="9.5" font-weight="bold" text-anchor="end" fill="#1a1a1a" stroke="#1a1a1a" stroke-width="0.22">0.0</text>
<line x1="638.5" y1="537.23" x2="641.5" y2="537.23" stroke="#606060" stroke-width="1.2"/>
<text x="636.3" y="540.58" font-size="9.5" font-weight="bold" text-anchor="end" fill="#1a1a1a" stroke="#1a1a1a" stroke-width="0.22">0.5</text>
<line x1="638.5" y1="502.25" x2="641.5" y2="502.25" stroke="#606060" stroke-width="1.2"/>
<text x="636.3" y="505.6" font-size="9.5" font-weight="bold" text-anchor="end" fill="#1a1a1a" stroke="#1a1a1a" stroke-width="0.22">1.0</text>
<line x1="638.5" y1="467.28" x2="641.5" y2="467.28" stroke="#606060" stroke-width="1.2"/>
<text x="636.3" y="470.63" font-size="9.5" font-weight="bold" text-anchor="end" fill="#1a1a1a" stroke="#1a1a1a" stroke-width="0.22">1.5</text>
<line x1="638.5" y1="432.3" x2="641.5" y2="432.3" stroke="#606060" stroke-width="1.2"/>
<text x="636.3" y="435.65" font-size="9.5" font-weight="bold" text-anchor="end" fill="#1a1a1a" stroke="#1a1a1a" stroke-width="0.22">2.0</text>
<line x1="666.1" y1="572.2" x2="666.1" y2="569.2" stroke="#606060" stroke-width="1.2"/>
<line x1="708.05" y1="572.2" x2="708.05" y2="569.2" stroke="#606060" stroke-width="1.2"/>
<line x1="750.15" y1="572.2" x2="750.15" y2="569.2" stroke="#606060" stroke-width="1.2"/>
<path d="M652.7 571.5 V502.8 H679.5 V571.5" stroke="#ff3030" stroke-width="2" fill="none"/>
<path d="M694.4 571.5 V481 H721.7 V571.5" stroke="#3030ff" stroke-width="2" fill="none"/>
<path d="M736.7 571.5 V500 H763.6 V571.5" stroke="#13902a" stroke-width="2" fill="none"/>
<circle cx="659.9" cy="497.3" r="2.95" fill="none" stroke="#ff3030" stroke-width="1.4"/>
<circle cx="672.3" cy="500.2" r="2.95" fill="none" stroke="#ff3030" stroke-width="1.4"/>
<circle cx="666" cy="509.3" r="2.95" fill="none" stroke="#ff3030" stroke-width="1.4"/>
<rect x="694.15" y="479.15" width="5.7" height="5.7" fill="none" stroke="#3030ff" stroke-width="1.5"/>
<rect x="705.05" y="477.45" width="5.7" height="5.7" fill="none" stroke="#3030ff" stroke-width="1.5"/>
<rect x="716.45" y="478.55" width="5.7" height="5.7" fill="none" stroke="#3030ff" stroke-width="1.5"/>
<path d="M743.9 492.84 L747.26 498.92 L740.54 498.92 Z" fill="none" stroke="#13902a" stroke-width="1.5" stroke-linejoin="miter"/>
<path d="M743.9 499.44 L747.26 505.52 L740.54 505.52 Z" fill="none" stroke="#13902a" stroke-width="1.5" stroke-linejoin="miter"/>
<path d="M755.9 496.84 L759.26 502.92 L752.54 502.92 Z" fill="none" stroke="#13902a" stroke-width="1.5" stroke-linejoin="miter"/>
<path d="M666.1 496.5 V509 M663.3 496.5 H668.9 M663.3 509 H668.9" stroke="#ff3030" stroke-width="1.6" fill="none"/>
<path d="M708.05 479.6 V482.4 M705.25 479.6 H710.85 M705.25 482.4 H710.85" stroke="#3030ff" stroke-width="1.6" fill="none"/>
<path d="M750.15 496.5 V503.5 M747.35 496.5 H752.95 M747.35 503.5 H752.95" stroke="#13902a" stroke-width="1.6" fill="none"/>
<path d="M668 475 V469 H749.4 V475" stroke="#666666" stroke-width="1.6" fill="none"/>
<path d="M707.9 469 V475" stroke="#333" stroke-width="2" fill="none"/>
<path d="M685.25 460.3 L683.45 466.9 M687.45 460.3 L685.65 466.9 M683.1 462.4 H687.8 M683.1 464.9 H687.8" stroke="#2e2e2e" stroke-width="1.05" fill="none"/>
<path d="M690.95 460.3 L689.15 466.9 M693.15 460.3 L691.35 466.9 M688.8 462.4 H693.5 M688.8 464.9 H693.5" stroke="#2e2e2e" stroke-width="1.05" fill="none"/>
<polygon points="725.8,461.1 726.7,463.26 729.03,463.45 727.26,464.97 727.8,467.25 725.8,466.03 723.8,467.25 724.34,464.97 722.57,463.45 724.9,463.26" fill="#222"/>
<polygon points="732.8,461.1 733.7,463.26 736.03,463.45 734.26,464.97 734.8,467.25 732.8,466.03 730.8,467.25 731.34,464.97 729.57,463.45 731.9,463.26" fill="#222"/>
<text x="614" y="500.9" font-size="9.65" font-weight="bold" text-anchor="middle" fill="#1a1a1a" transform="rotate(-90 614 500.9)" stroke="#1a1a1a" stroke-width="0.22">iNOS/GAPDH</text>
<text x="670.3" y="580.9" font-size="9.3" font-weight="bold" text-anchor="end" fill="#1a1a1a" transform="rotate(-45 670.3 580.9)" stroke="#1a1a1a" stroke-width="0.22">WT</text>
<text x="712.25" y="579.9" font-size="9.3" font-weight="bold" text-anchor="end" fill="#1a1a1a" transform="rotate(-45 712.25 579.9)" stroke="#1a1a1a" stroke-width="0.22">APP/PS1</text>
<text x="755.65" y="579.4" font-size="9.3" font-weight="bold" text-anchor="end" fill="#1a1a1a" transform="rotate(-45 755.65 579.4)" stroke="#1a1a1a" stroke-width="0.22">APP/PS1 + VB</text>
<path d="M445.4 639.8 V773.7 H579" stroke="#606060" stroke-width="1.6" fill="none"/>
<line x1="445.4" y1="773.4" x2="448.4" y2="773.4" stroke="#606060" stroke-width="1.2"/>
<text x="443.2" y="776.75" font-size="9.5" font-weight="bold" text-anchor="end" fill="#1a1a1a" stroke="#1a1a1a" stroke-width="0.22">0.0</text>
<line x1="445.4" y1="740" x2="448.4" y2="740" stroke="#606060" stroke-width="1.2"/>
<text x="443.2" y="743.35" font-size="9.5" font-weight="bold" text-anchor="end" fill="#1a1a1a" stroke="#1a1a1a" stroke-width="0.22">0.6</text>
<line x1="445.4" y1="706.6" x2="448.4" y2="706.6" stroke="#606060" stroke-width="1.2"/>
<text x="443.2" y="709.95" font-size="9.5" font-weight="bold" text-anchor="end" fill="#1a1a1a" stroke="#1a1a1a" stroke-width="0.22">1.2</text>
<line x1="445.4" y1="673.2" x2="448.4" y2="673.2" stroke="#606060" stroke-width="1.2"/>
<text x="443.2" y="676.55" font-size="9.5" font-weight="bold" text-anchor="end" fill="#1a1a1a" stroke="#1a1a1a" stroke-width="0.22">1.8</text>
<line x1="445.4" y1="639.8" x2="448.4" y2="639.8" stroke="#606060" stroke-width="1.2"/>
<text x="443.2" y="643.15" font-size="9.5" font-weight="bold" text-anchor="end" fill="#1a1a1a" stroke="#1a1a1a" stroke-width="0.22">2.4</text>
<line x1="471.4" y1="773.4" x2="471.4" y2="770.4" stroke="#606060" stroke-width="1.2"/>
<line x1="511.6" y1="773.4" x2="511.6" y2="770.4" stroke="#606060" stroke-width="1.2"/>
<line x1="551.5" y1="773.4" x2="551.5" y2="770.4" stroke="#606060" stroke-width="1.2"/>
<path d="M458.3 772.7 V718.4 H484.5 V772.7" stroke="#ff3030" stroke-width="2" fill="none"/>
<path d="M498.7 772.7 V664.5 H524.5 V772.7" stroke="#3030ff" stroke-width="2" fill="none"/>
<path d="M538.6 772.7 V701 H564.4 V772.7" stroke="#13902a" stroke-width="2" fill="none"/>
<circle cx="465.1" cy="714.1" r="2.95" fill="none" stroke="#ff3030" stroke-width="1.4"/>
<circle cx="465.1" cy="720.6" r="2.95" fill="none" stroke="#ff3030" stroke-width="1.4"/>
<circle cx="476.4" cy="718.4" r="2.95" fill="none" stroke="#ff3030" stroke-width="1.4"/>
<rect x="498.25" y="663.85" width="5.7" height="5.7" fill="none" stroke="#3030ff" stroke-width="1.5"/>
<rect x="508.95" y="658.15" width="5.7" height="5.7" fill="none" stroke="#3030ff" stroke-width="1.5"/>
<rect x="518.95" y="660.55" width="5.7" height="5.7" fill="none" stroke="#3030ff" stroke-width="1.5"/>
<path d="M552.2 692.54 L555.56 698.62 L548.84 698.62 Z" fill="none" stroke="#13902a" stroke-width="1.5" stroke-linejoin="miter"/>
<path d="M545.9 700.44 L549.26 706.52 L542.54 706.52 Z" fill="none" stroke="#13902a" stroke-width="1.5" stroke-linejoin="miter"/>
<path d="M558.3 699.74 L561.66 705.82 L554.94 705.82 Z" fill="none" stroke="#13902a" stroke-width="1.5" stroke-linejoin="miter"/>
<path d="M471.4 716 V721 M468.6 716 H474.2 M468.6 721 H474.2" stroke="#ff3030" stroke-width="1.6" fill="none"/>
<path d="M511.6 661.5 V667.5 M508.8 661.5 H514.4 M508.8 667.5 H514.4" stroke="#3030ff" stroke-width="1.6" fill="none"/>
<path d="M551.5 697.5 V704.5 M548.7 697.5 H554.3 M548.7 704.5 H554.3" stroke="#13902a" stroke-width="1.6" fill="none"/>
<path d="M470.5 655.1 V649.2 H552.4 V655.1" stroke="#666666" stroke-width="1.6" fill="none"/>
<path d="M511.4 649.2 V655.1" stroke="#333" stroke-width="2" fill="none"/>
<path d="M485.8 640.5 L484 647.1 M488 640.5 L486.2 647.1 M483.65 642.6 H488.35 M483.65 645.1 H488.35" stroke="#2e2e2e" stroke-width="1.05" fill="none"/>
<path d="M491.5 640.5 L489.7 647.1 M493.7 640.5 L491.9 647.1 M489.35 642.6 H494.05 M489.35 645.1 H494.05" stroke="#2e2e2e" stroke-width="1.05" fill="none"/>
<path d="M497.2 640.5 L495.4 647.1 M499.4 640.5 L497.6 647.1 M495.05 642.6 H499.75 M495.05 645.1 H499.75" stroke="#2e2e2e" stroke-width="1.05" fill="none"/>
<polygon points="525.8,641.3 526.7,643.46 529.03,643.65 527.26,645.17 527.8,647.45 525.8,646.23 523.8,647.45 524.34,645.17 522.57,643.65 524.9,643.46" fill="#222"/>
<polygon points="532.8,641.3 533.7,643.46 536.03,643.65 534.26,645.17 534.8,647.45 532.8,646.23 530.8,647.45 531.34,645.17 529.57,643.65 531.9,643.46" fill="#222"/>
<polygon points="539.8,641.3 540.7,643.46 543.03,643.65 541.26,645.17 541.8,647.45 539.8,646.23 537.8,647.45 538.34,645.17 536.57,643.65 538.9,643.46" fill="#222"/>
<text x="423" y="705.3" font-size="9.65" font-weight="bold" text-anchor="middle" fill="#1a1a1a" transform="rotate(-90 423 705.3)" stroke="#1a1a1a" stroke-width="0.22">p-IKKα+β/IKKα+β</text>
<text x="476.7" y="782.6" font-size="9.6" font-weight="bold" text-anchor="end" fill="#1a1a1a" transform="rotate(-45 476.7 782.6)" stroke="#1a1a1a" stroke-width="0.22">WT</text>
<text x="518.8" y="781.3" font-size="9.6" font-weight="bold" text-anchor="end" fill="#1a1a1a" transform="rotate(-45 518.8 781.3)" stroke="#1a1a1a" stroke-width="0.22">APP/PS1</text>
<text x="562" y="780.3" font-size="9.6" font-weight="bold" text-anchor="end" fill="#1a1a1a" transform="rotate(-45 562 780.3)" stroke="#1a1a1a" stroke-width="0.22">APP/PS1 + VB</text>
<path d="M636.3 633.7 V774.4 H776.7" stroke="#606060" stroke-width="1.6" fill="none"/>
<line x1="636.3" y1="774.1" x2="639.3" y2="774.1" stroke="#606060" stroke-width="1.2"/>
<text x="634.1" y="777.45" font-size="9.5" font-weight="bold" text-anchor="end" fill="#1a1a1a" stroke="#1a1a1a" stroke-width="0.22">0.0</text>
<line x1="636.3" y1="739" x2="639.3" y2="739" stroke="#606060" stroke-width="1.2"/>
<text x="634.1" y="742.35" font-size="9.5" font-weight="bold" text-anchor="end" fill="#1a1a1a" stroke="#1a1a1a" stroke-width="0.22">0.6</text>
<line x1="636.3" y1="703.9" x2="639.3" y2="703.9" stroke="#606060" stroke-width="1.2"/>
<text x="634.1" y="707.25" font-size="9.5" font-weight="bold" text-anchor="end" fill="#1a1a1a" stroke="#1a1a1a" stroke-width="0.22">1.2</text>
<line x1="636.3" y1="668.8" x2="639.3" y2="668.8" stroke="#606060" stroke-width="1.2"/>
<text x="634.1" y="672.15" font-size="9.5" font-weight="bold" text-anchor="end" fill="#1a1a1a" stroke="#1a1a1a" stroke-width="0.22">1.8</text>
<line x1="636.3" y1="633.7" x2="639.3" y2="633.7" stroke="#606060" stroke-width="1.2"/>
<text x="634.1" y="637.05" font-size="9.5" font-weight="bold" text-anchor="end" fill="#1a1a1a" stroke="#1a1a1a" stroke-width="0.22">2.4</text>
<line x1="664.25" y1="774.1" x2="664.25" y2="771.1" stroke="#606060" stroke-width="1.2"/>
<line x1="706.25" y1="774.1" x2="706.25" y2="771.1" stroke="#606060" stroke-width="1.2"/>
<line x1="748.6" y1="774.1" x2="748.6" y2="771.1" stroke="#606060" stroke-width="1.2"/>
<path d="M650.7 773.4 V716.7 H677.8 V773.4" stroke="#ff3030" stroke-width="2" fill="none"/>
<path d="M692.6 773.4 V675.2 H719.9 V773.4" stroke="#3030ff" stroke-width="2" fill="none"/>
<path d="M735.2 773.4 V718 H762 V773.4" stroke="#13902a" stroke-width="2" fill="none"/>
<circle cx="653.3" cy="717.3" r="2.95" fill="none" stroke="#ff3030" stroke-width="1.4"/>
<circle cx="664.2" cy="712.5" r="2.95" fill="none" stroke="#ff3030" stroke-width="1.4"/>
<circle cx="675.2" cy="717.3" r="2.95" fill="none" stroke="#ff3030" stroke-width="1.4"/>
<rect x="692.65" y="675.65" width="5.7" height="5.7" fill="none" stroke="#3030ff" stroke-width="1.5"/>
<rect x="703.95" y="670.15" width="5.7" height="5.7" fill="none" stroke="#3030ff" stroke-width="1.5"/>
<rect x="714.85" y="670.35" width="5.7" height="5.7" fill="none" stroke="#3030ff" stroke-width="1.5"/>
<path d="M742.8 709.14 L746.16 715.22 L739.44 715.22 Z" fill="none" stroke="#13902a" stroke-width="1.5" stroke-linejoin="miter"/>
<path d="M754.8 708.54 L758.16 714.62 L751.44 714.62 Z" fill="none" stroke="#13902a" stroke-width="1.5" stroke-linejoin="miter"/>
<path d="M749 724.94 L752.36 731.02 L745.64 731.02 Z" fill="none" stroke="#13902a" stroke-width="1.5" stroke-linejoin="miter"/>
<path d="M664.25 714 V719.4 M661.45 714 H667.05 M661.45 719.4 H667.05" stroke="#ff3030" stroke-width="1.6" fill="none"/>
<path d="M706.25 673 V677.4 M703.45 673 H709.05 M703.45 677.4 H709.05" stroke="#3030ff" stroke-width="1.6" fill="none"/>
<path d="M748.6 711.5 V723 M745.8 711.5 H751.4 M745.8 723 H751.4" stroke="#13902a" stroke-width="1.6" fill="none"/>
<path d="M662.5 666.7 V660.6 H749.8 V666.7" stroke="#666666" stroke-width="1.6" fill="none"/>
<path d="M707.2 660.6 V666.7" stroke="#333" stroke-width="2" fill="none"/>
<path d="M677.5 651.9 L675.7 658.5 M679.7 651.9 L677.9 658.5 M675.35 654 H680.05 M675.35 656.5 H680.05" stroke="#2e2e2e" stroke-width="1.05" fill="none"/>
<path d="M683.2 651.9 L681.4 658.5 M685.4 651.9 L683.6 658.5 M681.05 654 H685.75 M681.05 656.5 H685.75" stroke="#2e2e2e" stroke-width="1.05" fill="none"/>
<path d="M688.9 651.9 L687.1 658.5 M691.1 651.9 L689.3 658.5 M686.75 654 H691.45 M686.75 656.5 H691.45" stroke="#2e2e2e" stroke-width="1.05" fill="none"/>
<polygon points="723.4,652.7 724.3,654.86 726.63,655.05 724.86,656.57 725.4,658.85 723.4,657.63 721.4,658.85 721.94,656.57 720.17,655.05 722.5,654.86" fill="#222"/>
<polygon points="730.4,652.7 731.3,654.86 733.63,655.05 731.86,656.57 732.4,658.85 730.4,657.63 728.4,658.85 728.94,656.57 727.17,655.05 729.5,654.86" fill="#222"/>
<polygon points="737.4,652.7 738.3,654.86 740.63,655.05 738.86,656.57 739.4,658.85 737.4,657.63 735.4,658.85 735.94,656.57 734.17,655.05 736.5,654.86" fill="#222"/>
<text x="612" y="702.6" font-size="9.65" font-weight="bold" text-anchor="middle" fill="#1a1a1a" transform="rotate(-90 612 702.6)" stroke="#1a1a1a" stroke-width="0.22">p-IκBα/IκBα</text>
<text x="669.55" y="783.3" font-size="9.6" font-weight="bold" text-anchor="end" fill="#1a1a1a" transform="rotate(-45 669.55 783.3)" stroke="#1a1a1a" stroke-width="0.22">WT</text>
<text x="713.45" y="782" font-size="9.6" font-weight="bold" text-anchor="end" fill="#1a1a1a" transform="rotate(-45 713.45 782)" stroke="#1a1a1a" stroke-width="0.22">APP/PS1</text>
<text x="759.1" y="781" font-size="9.6" font-weight="bold" text-anchor="end" fill="#1a1a1a" transform="rotate(-45 759.1 781)" stroke="#1a1a1a" stroke-width="0.22">APP/PS1 + VB</text>
<path d="M818.4 639.8 V774.4 H952.7" stroke="#606060" stroke-width="1.6" fill="none"/>
<line x1="818.4" y1="774.1" x2="821.4" y2="774.1" stroke="#606060" stroke-width="1.2"/>
<text x="816.2" y="777.45" font-size="9.5" font-weight="bold" text-anchor="end" fill="#1a1a1a" stroke="#1a1a1a" stroke-width="0.22">0.0</text>
<line x1="818.4" y1="740.52" x2="821.4" y2="740.52" stroke="#606060" stroke-width="1.2"/>
<text x="816.2" y="743.88" font-size="9.5" font-weight="bold" text-anchor="end" fill="#1a1a1a" stroke="#1a1a1a" stroke-width="0.22">0.5</text>
<line x1="818.4" y1="706.95" x2="821.4" y2="706.95" stroke="#606060" stroke-width="1.2"/>
<text x="816.2" y="710.3" font-size="9.5" font-weight="bold" text-anchor="end" fill="#1a1a1a" stroke="#1a1a1a" stroke-width="0.22">1.0</text>
<line x1="818.4" y1="673.38" x2="821.4" y2="673.38" stroke="#606060" stroke-width="1.2"/>
<text x="816.2" y="676.73" font-size="9.5" font-weight="bold" text-anchor="end" fill="#1a1a1a" stroke="#1a1a1a" stroke-width="0.22">1.5</text>
<line x1="818.4" y1="639.8" x2="821.4" y2="639.8" stroke="#606060" stroke-width="1.2"/>
<text x="816.2" y="643.15" font-size="9.5" font-weight="bold" text-anchor="end" fill="#1a1a1a" stroke="#1a1a1a" stroke-width="0.22">2.0</text>
<line x1="845.7" y1="774.1" x2="845.7" y2="771.1" stroke="#606060" stroke-width="1.2"/>
<line x1="885.75" y1="774.1" x2="885.75" y2="771.1" stroke="#606060" stroke-width="1.2"/>
<line x1="926.15" y1="774.1" x2="926.15" y2="771.1" stroke="#606060" stroke-width="1.2"/>
<path d="M832.6 773.4 V707.5 H858.8 V773.4" stroke="#ff3030" stroke-width="2" fill="none"/>
<path d="M873 773.4 V675.9 H898.5 V773.4" stroke="#3030ff" stroke-width="2" fill="none"/>
<path d="M913.4 773.4 V709 H938.9 V773.4" stroke="#13902a" stroke-width="2" fill="none"/>
<circle cx="839.8" cy="701" r="2.95" fill="none" stroke="#ff3030" stroke-width="1.4"/>
<circle cx="851.6" cy="706.4" r="2.95" fill="none" stroke="#ff3030" stroke-width="1.4"/>
<circle cx="845.7" cy="713.4" r="2.95" fill="none" stroke="#ff3030" stroke-width="1.4"/>
<rect x="872.75" y="674.75" width="5.7" height="5.7" fill="none" stroke="#3030ff" stroke-width="1.5"/>
<rect x="882.55" y="670.85" width="5.7" height="5.7" fill="none" stroke="#3030ff" stroke-width="1.5"/>
<rect x="893.45" y="673.45" width="5.7" height="5.7" fill="none" stroke="#3030ff" stroke-width="1.5"/>
<path d="M925.8 700.24 L929.16 706.32 L922.44 706.32 Z" fill="none" stroke="#13902a" stroke-width="1.5" stroke-linejoin="miter"/>
<path d="M920.6 708.54 L923.96 714.62 L917.24 714.62 Z" fill="none" stroke="#13902a" stroke-width="1.5" stroke-linejoin="miter"/>
<path d="M931.9 706.94 L935.26 713.02 L928.54 713.02 Z" fill="none" stroke="#13902a" stroke-width="1.5" stroke-linejoin="miter"/>
<path d="M845.7 703 V712 M842.9 703 H848.5 M842.9 712 H848.5" stroke="#ff3030" stroke-width="1.6" fill="none"/>
<path d="M885.75 674 V678 M882.95 674 H888.55 M882.95 678 H888.55" stroke="#3030ff" stroke-width="1.6" fill="none"/>
<path d="M926.15 706 V712 M923.35 706 H928.95 M923.35 712 H928.95" stroke="#13902a" stroke-width="1.6" fill="none"/>
<path d="M847.4 664.5 V659 H925.4 V664.5" stroke="#666666" stroke-width="1.6" fill="none"/>
<path d="M885 659 V664.5" stroke="#333" stroke-width="2" fill="none"/>
<path d="M860.1 650.3 L858.3 656.9 M862.3 650.3 L860.5 656.9 M857.95 652.4 H862.65 M857.95 654.9 H862.65" stroke="#2e2e2e" stroke-width="1.05" fill="none"/>
<path d="M865.8 650.3 L864 656.9 M868 650.3 L866.2 656.9 M863.65 652.4 H868.35 M863.65 654.9 H868.35" stroke="#2e2e2e" stroke-width="1.05" fill="none"/>
<path d="M871.5 650.3 L869.7 656.9 M873.7 650.3 L871.9 656.9 M869.35 652.4 H874.05 M869.35 654.9 H874.05" stroke="#2e2e2e" stroke-width="1.05" fill="none"/>
<polygon points="899.4,651.1 900.3,653.26 902.63,653.45 900.86,654.97 901.4,657.25 899.4,656.03 897.4,657.25 897.94,654.97 896.17,653.45 898.5,653.26" fill="#222"/>
<polygon points="906.4,651.1 907.3,653.26 909.63,653.45 907.86,654.97 908.4,657.25 906.4,656.03 904.4,657.25 904.94,654.97 903.17,653.45 905.5,653.26" fill="#222"/>
<polygon points="913.4,651.1 914.3,653.26 916.63,653.45 914.86,654.97 915.4,657.25 913.4,656.03 911.4,657.25 911.94,654.97 910.17,653.45 912.5,653.26" fill="#222"/>
<text x="796.7" y="705.6" font-size="9.65" font-weight="bold" text-anchor="middle" fill="#1a1a1a" transform="rotate(-90 796.7 705.6)" stroke="#1a1a1a" stroke-width="0.22">p-NF-κB-p65/NF-κB-p65</text>
<text x="851" y="783.3" font-size="9.6" font-weight="bold" text-anchor="end" fill="#1a1a1a" transform="rotate(-45 851 783.3)" stroke="#1a1a1a" stroke-width="0.22">WT</text>
<text x="892.95" y="782" font-size="9.6" font-weight="bold" text-anchor="end" fill="#1a1a1a" transform="rotate(-45 892.95 782)" stroke="#1a1a1a" stroke-width="0.22">APP/PS1</text>
<text x="936.65" y="781" font-size="9.6" font-weight="bold" text-anchor="end" fill="#1a1a1a" transform="rotate(-45 936.65 781)" stroke="#1a1a1a" stroke-width="0.22">APP/PS1 + VB</text>
<defs><filter id="grain" x="0" y="0" width="100%" height="100%"><feTurbulence type="fractalNoise" baseFrequency="0.38" numOctaves="2" seed="3"/><feColorMatrix type="matrix" values="0 0 0 0 0  0 0 0 0 0  0 0 0 0 0  3 0 0 0 -1.5"/></filter><filter id="grainw" x="0" y="0" width="100%" height="100%"><feTurbulence type="fractalNoise" baseFrequency="0.38" numOctaves="2" seed="3"/><feColorMatrix type="matrix" values="0 0 0 0 1  0 0 0 0 1  0 0 0 0 1  -3 0 0 0 1.5"/></filter><filter id="b0_6" x="-50%" y="-50%" width="200%" height="200%"><feGaussianBlur stdDeviation="0.6"/></filter><filter id="b0_8" x="-50%" y="-50%" width="200%" height="200%"><feGaussianBlur stdDeviation="0.8"/></filter><filter id="b1_0" x="-50%" y="-50%" width="200%" height="200%"><feGaussianBlur stdDeviation="1.0"/></filter><filter id="b1_1" x="-50%" y="-50%" width="200%" height="200%"><feGaussianBlur stdDeviation="1.1"/></filter><filter id="b1_2" x="-50%" y="-50%" width="200%" height="200%"><feGaussianBlur stdDeviation="1.2"/></filter><filter id="b1_3" x="-50%" y="-50%" width="200%" height="200%"><feGaussianBlur stdDeviation="1.3"/></filter><filter id="b1_4" x="-50%" y="-50%" width="200%" height="200%"><feGaussianBlur stdDeviation="1.4"/></filter><filter id="b1_5" x="-50%" y="-50%" width="200%" height="200%"><feGaussianBlur stdDeviation="1.5"/></filter><filter id="b1_6" x="-50%" y="-50%" width="200%" height="200%"><feGaussianBlur stdDeviation="1.6"/></filter><filter id="b1_8" x="-50%" y="-50%" width="200%" height="200%"><feGaussianBlur stdDeviation="1.8"/></filter><filter id="b1_9" x="-50%" y="-50%" width="200%" height="200%"><feGaussianBlur stdDeviation="1.9"/></filter><filter id="b2_0" x="-50%" y="-50%" width="200%" height="200%"><feGaussianBlur stdDeviation="2.0"/></filter><filter id="b2_2" x="-50%" y="-50%" width="200%" height="200%"><feGaussianBlur stdDeviation="2.2"/></filter><filter id="b2_4" x="-50%" y="-50%" width="200%" height="200%"><feGaussianBlur stdDeviation="2.4"/></filter><filter id="b2_5" x="-50%" y="-50%" width="200%" height="200%"><feGaussianBlur stdDeviation="2.5"/></filter><filter id="b3_0" x="-50%" y="-50%" width="200%" height="200%"><feGaussianBlur stdDeviation="3.0"/></filter><filter id="b4_0" x="-50%" y="-50%" width="200%" height="200%"><feGaussianBlur stdDeviation="4.0"/></filter></defs><text x="143.2" y="249.7" font-size="13.8" text-anchor="end" fill="#222" stroke="#222" stroke-width="0.25">APP/PS1</text><text x="148.4" y="266" font-size="14.1" text-anchor="end" fill="#222" stroke="#222" stroke-width="0.25">VB (10 mg/kg)</text><path d="M175.1 242.2 H181.3" stroke="#222" stroke-width="1.9"/><path d="M228 241.5 H236 M232 237.5 V245.5" stroke="#222" stroke-width="1.6"/><path d="M285 240.5 H293 M289 236.5 V244.5" stroke="#222" stroke-width="1.6"/><path d="M175.1 261.3 H181.3" stroke="#222" stroke-width="1.9"/><path d="M228.7 262.3 H234.9" stroke="#222" stroke-width="1.9"/><path d="M285 261.8 H293 M289 257.8 V265.8" stroke="#222" stroke-width="1.6"/><clipPath id="c1"><rect x="152.5" y="270.3" width="158" height="32.5"/></clipPath><g clip-path="url(#c1)"><rect x="152.5" y="270.3" width="158" height="32.5" fill="#989898"/><linearGradient id="lg1_1480" x1="0" y1="0" x2="0" y2="1"><stop offset="0" stop-color="#7d7d7d"/><stop offset="0.35" stop-color="#8c8c8c"/><stop offset="0.7" stop-color="#a0a0a0"/><stop offset="1" stop-color="#a5a5a5"/></linearGradient><rect x="148" y="268.3" width="167" height="36.5" fill="url(#lg1_1480)" filter="url(#b2_0)"/><linearGradient id="h11" x1="0" y1="0" x2="1" y2="0"><stop offset="0" stop-color="#808080" stop-opacity="0"/><stop offset="1" stop-color="#808080" stop-opacity="0.6"/></linearGradient><rect x="262" y="292" width="50" height="12" fill="url(#h11)" filter="url(#b2_0)"/><rect x="197" y="266.3" width="10" height="40.5" fill="#aaaaaa" filter="url(#b2_5)"/><rect x="254" y="266.3" width="10" height="40.5" fill="#a8a8a8" filter="url(#b2_5)"/><rect x="157" y="277.2" width="39" height="8.6" rx="4.3" ry="4.3" fill="#050505" fill-opacity="1" filter="url(#b1_5)"/><rect x="208.5" y="278.2" width="45.5" height="10" rx="5" ry="5" fill="#030303" fill-opacity="1" filter="url(#b1_5)"/><rect x="267" y="282" width="39.5" height="9.4" rx="4.7" ry="4.7" fill="#030303" fill-opacity="1" filter="url(#b1_5)"/><rect x="269" y="268.9" width="37.5" height="6.8" rx="3.4" ry="3.4" fill="#141414" fill-opacity="1" filter="url(#b1_5)"/><rect x="152.5" y="270.3" width="158" height="32.5" filter="url(#grain)" opacity="0.04"/><rect x="152.5" y="270.3" width="158" height="32.5" filter="url(#grainw)" opacity="0.04"/></g><rect x="152.5" y="270.3" width="158" height="32.5" fill="none" stroke="#151515" stroke-width="1.25"/><text x="147.6" y="289.2" font-size="14.1" text-anchor="end" fill="#222" stroke="#222" stroke-width="0.25">IL-1β</text><line x1="310.5" y1="286.6" x2="326.2" y2="286.6" stroke="#333" stroke-width="1.1"/><text x="329.7" y="291.5" font-size="13.8" text-anchor="start" fill="#222" stroke="#222" stroke-width="0.25">17 kDa</text><clipPath id="c2"><rect x="152.5" y="311.8" width="158" height="32.5"/></clipPath><g clip-path="url(#c2)"><rect x="152.5" y="311.8" width="158" height="32.5" fill="#808080"/><linearGradient id="lg2_1480" x1="0" y1="0" x2="0" y2="1"><stop offset="0" stop-color="#737373"/><stop offset="0.4" stop-color="#878787"/><stop offset="1" stop-color="#808080"/></linearGradient><rect x="148" y="309.8" width="167" height="36.5" fill="url(#lg2_1480)" filter="url(#b2_0)"/><rect x="198" y="307.8" width="10" height="40.5" fill="#969696" filter="url(#b2_5)"/><rect x="252.5" y="307.8" width="9" height="40.5" fill="#b4b4b4" filter="url(#b2_5)"/><linearGradient id="lg21_1560" x1="0" y1="0" x2="0" y2="1"><stop offset="0" stop-color="#191919"/><stop offset="0.3" stop-color="#191919"/><stop offset="0.6" stop-color="#373737"/><stop offset="1" stop-color="#414141"/></linearGradient><rect x="156" y="321" width="42" height="29" fill="url(#lg21_1560)" filter="url(#b2_4)"/><rect x="209" y="324" width="18" height="7" rx="3.5" ry="3.5" fill="#141414" fill-opacity="1" filter="url(#b2_0)"/><rect x="222" y="326.25" width="28" height="4.5" rx="2.25" ry="2.25" fill="#5f5f5f" fill-opacity="1" filter="url(#b2_0)"/><linearGradient id="lg22_2100" x1="0" y1="0" x2="0" y2="1"><stop offset="0" stop-color="#808080"/><stop offset="1" stop-color="#787878"/></linearGradient><rect x="210" y="332" width="42" height="18" fill="url(#lg22_2100)" filter="url(#b2_4)"/><linearGradient id="lg23_2650" x1="0" y1="0" x2="0" y2="1"><stop offset="0" stop-color="#191919"/><stop offset="0.3" stop-color="#232323"/><stop offset="0.6" stop-color="#3c3c3c"/><stop offset="1" stop-color="#464646"/></linearGradient><rect x="265" y="321" width="40" height="29" fill="url(#lg23_2650)" filter="url(#b2_4)"/><rect x="152.5" y="311.8" width="158" height="32.5" filter="url(#grain)" opacity="0.07"/><rect x="152.5" y="311.8" width="158" height="32.5" filter="url(#grainw)" opacity="0.07"/></g><rect x="152.5" y="311.8" width="158" height="32.5" fill="none" stroke="#151515" stroke-width="1.25"/><text x="147.6" y="332.6" font-size="14.1" text-anchor="end" fill="#222" stroke="#222" stroke-width="0.25">IL-4</text><line x1="310.5" y1="327.4" x2="323.7" y2="327.4" stroke="#333" stroke-width="1.1"/><text x="327.2" y="333.3" font-size="13.8" text-anchor="start" fill="#222" stroke="#222" stroke-width="0.25">16 kDa</text><clipPath id="c3"><rect x="152.5" y="353.6" width="158" height="32.8"/></clipPath><g clip-path="url(#c3)"><rect x="152.5" y="353.6" width="158" height="32.8" fill="#6a6a6a"/><rect x="198" y="349.6" width="10" height="40.8" fill="#767676" filter="url(#b2_5)"/><rect x="254.5" y="349.6" width="9" height="40.8" fill="#747474" filter="url(#b2_5)"/><rect x="159" y="366.25" width="37" height="5.5" rx="2.75" ry="2.75" fill="#424242" fill-opacity="1" filter="url(#b2_0)"/><rect x="209" y="364.15" width="44" height="6.5" rx="3.25" ry="3.25" fill="#1c1c1c" fill-opacity="1" filter="url(#b2_0)"/><rect x="234" y="364" width="19" height="6" rx="3" ry="3" fill="#0c0c0c" fill-opacity="1" filter="url(#b2_0)"/><linearGradient id="lg31_2100" x1="0" y1="0" x2="0" y2="1"><stop offset="0" stop-color="#5a5a5a"/><stop offset="1" stop-color="#5f5f5f"/></linearGradient><rect x="210" y="370" width="42" height="22" fill="url(#lg31_2100)" filter="url(#b3_0)"/><rect x="264" y="363.25" width="37" height="4.5" rx="2.25" ry="2.25" fill="#4e4e4e" fill-opacity="1" filter="url(#b2_0)"/><rect x="152.5" y="353.6" width="158" height="32.8" filter="url(#grain)" opacity="0.07"/><rect x="152.5" y="353.6" width="158" height="32.8" filter="url(#grainw)" opacity="0.07"/></g><rect x="152.5" y="353.6" width="158" height="32.8" fill="none" stroke="#151515" stroke-width="1.25"/><text x="147.6" y="374.3" font-size="14.1" text-anchor="end" fill="#222" stroke="#222" stroke-width="0.25">IL-6</text><line x1="310.5" y1="368.4" x2="326.7" y2="368.4" stroke="#333" stroke-width="1.1"/><text x="330.2" y="374.3" font-size="13.8" text-anchor="start" fill="#222" stroke="#222" stroke-width="0.25">26 kDa</text><clipPath id="c4"><rect x="152.5" y="396" width="158" height="32.7"/></clipPath><g clip-path="url(#c4)"><rect x="152.5" y="396" width="158" height="32.7" fill="#b2b2b2"/><linearGradient id="lg4_1480" x1="0" y1="0" x2="0" y2="1"><stop offset="0" stop-color="#c3c3c3"/><stop offset="0.3" stop-color="#afafaf"/><stop offset="0.8" stop-color="#b6b6b6"/><stop offset="1" stop-color="#cdcdcd"/></linearGradient><rect x="148" y="394" width="167" height="36.7" fill="url(#lg4_1480)" filter="url(#b2_0)"/><rect x="197.5" y="392" width="9" height="40.7" fill="#d2d2d2" filter="url(#b2_5)"/><rect x="254.5" y="392" width="9" height="40.7" fill="#e1e1e1" filter="url(#b2_5)"/><rect x="152" y="392" width="5" height="40.7" fill="#e1e1e1" filter="url(#b1_5)"/><rect x="307" y="392" width="4" height="40.7" fill="#e1e1e1" filter="url(#b1_5)"/><rect x="157.5" y="404.5" width="40.5" height="7" rx="3.5" ry="3.5" fill="#050505" fill-opacity="1" filter="url(#b1_8)"/><rect x="157.5" y="411.3" width="40.5" height="7" rx="3.5" ry="3.5" fill="#0f0f0f" fill-opacity="1" filter="url(#b1_8)"/><linearGradient id="lg41_2070" x1="0" y1="0" x2="0" y2="1"><stop offset="0" stop-color="#969696"/><stop offset="1" stop-color="#969696"/></linearGradient><rect x="207" y="403" width="45" height="20" fill="url(#lg41_2070)" filter="url(#b2_5)"/><rect x="206" y="404.6" width="46" height="6" rx="3" ry="3" fill="#373737" fill-opacity="1" filter="url(#b2_0)"/><rect x="206" y="411.5" width="46" height="7" rx="3.5" ry="3.5" fill="#323232" fill-opacity="1" filter="url(#b2_0)"/><rect x="267" y="404" width="39" height="7" rx="3.5" ry="3.5" fill="#0a0a0a" fill-opacity="1" filter="url(#b1_9)"/><rect x="267" y="409" width="39" height="14" rx="5" ry="5" fill="#030303" fill-opacity="1" filter="url(#b2_0)"/><rect x="152.5" y="396" width="158" height="32.7" filter="url(#grain)" opacity="0.04"/><rect x="152.5" y="396" width="158" height="32.7" filter="url(#grainw)" opacity="0.04"/></g><rect x="152.5" y="396" width="158" height="32.7" fill="none" stroke="#151515" stroke-width="1.25"/><text x="147.6" y="415.7" font-size="14.1" text-anchor="end" fill="#222" stroke="#222" stroke-width="0.25">IL-10</text><line x1="310.5" y1="410.1" x2="327.9" y2="410.1" stroke="#333" stroke-width="1.1"/><text x="331.4" y="416.4" font-size="13.8" text-anchor="start" fill="#222" stroke="#222" stroke-width="0.25">18 kDa</text><clipPath id="c5"><rect x="152.5" y="437.8" width="158" height="32.7"/></clipPath><g clip-path="url(#c5)"><rect x="152.5" y="437.8" width="158" height="32.7" fill="#d7d7d7"/><linearGradient id="lg5_1480" x1="0" y1="0" x2="0" y2="1"><stop offset="0" stop-color="#dedede"/><stop offset="0.5" stop-color="#d4d4d4"/><stop offset="1" stop-color="#cdcdcd"/></linearGradient><rect x="148" y="435.8" width="167" height="36.7" fill="url(#lg5_1480)" filter="url(#b2_0)"/><linearGradient id="h51" x1="0" y1="0" x2="1" y2="0"><stop offset="0" stop-color="#707070"/><stop offset="0.45" stop-color="#5a5a5a"/><stop offset="0.75" stop-color="#303030"/><stop offset="1" stop-color="#282828"/></linearGradient><rect x="155" y="450.5" width="39" height="26" fill="url(#h51)" filter="url(#b2_2)"/><linearGradient id="lg53_2090" x1="0" y1="0" x2="0" y2="1"><stop offset="0" stop-color="#080808"/><stop offset="0.4" stop-color="#0c0c0c"/><stop offset="0.7" stop-color="#323232"/><stop offset="1" stop-color="#3c3c3c"/></linearGradient><rect x="209" y="449" width="42" height="27" fill="url(#lg53_2090)" filter="url(#b2_2)"/><linearGradient id="lg54_2660" x1="0" y1="0" x2="0" y2="1"><stop offset="0" stop-color="#a5a5a5"/><stop offset="1" stop-color="#9b9b9b"/></linearGradient><rect x="266" y="448.5" width="40" height="27.5" fill="url(#lg54_2660)" filter="url(#b2_2)"/><circle cx="259" cy="454" r="3.2" fill="#f4f4f4" filter="url(#b1_5)"/><rect x="152.5" y="437.8" width="158" height="32.7" filter="url(#grain)" opacity="0.06"/><rect x="152.5" y="437.8" width="158" height="32.7" filter="url(#grainw)" opacity="0.06"/></g><rect x="152.5" y="437.8" width="158" height="32.7" fill="none" stroke="#151515" stroke-width="1.25"/><text x="147.6" y="456.2" font-size="14.1" text-anchor="end" fill="#222" stroke="#222" stroke-width="0.25">iNOS</text><line x1="310.5" y1="454" x2="325.9" y2="454" stroke="#333" stroke-width="1.1"/><text x="329.4" y="458.9" font-size="13.8" text-anchor="start" fill="#222" stroke="#222" stroke-width="0.25">131 kDa</text><clipPath id="c6"><rect x="152.5" y="478.8" width="158" height="33.1"/></clipPath><g clip-path="url(#c6)"><rect x="152.5" y="478.8" width="158" height="33.1" fill="#ececec"/><rect x="158" y="483.5" width="42" height="4" rx="2" ry="2" fill="#c3c3c3" fill-opacity="1" filter="url(#b1_5)"/><rect x="208" y="483.5" width="42" height="4" rx="2" ry="2" fill="#c8c8c8" fill-opacity="1" filter="url(#b1_5)"/><rect x="256" y="483" width="46" height="4" rx="2" ry="2" fill="#c8c8c8" fill-opacity="1" filter="url(#b1_5)"/><rect x="156.4" y="490.4" width="44.1" height="8.8" rx="4.4" ry="4.4" fill="#000" fill-opacity="1" filter="url(#b1_3)"/><rect x="206.7" y="490.5" width="44.2" height="8.6" rx="4.3" ry="4.3" fill="#000" fill-opacity="1" filter="url(#b1_3)"/><rect x="254.6" y="489.7" width="49.1" height="9.4" rx="4.7" ry="4.7" fill="#000" fill-opacity="1" filter="url(#b1_3)"/></g><rect x="152.5" y="478.8" width="158" height="33.1" fill="none" stroke="#151515" stroke-width="1.25"/><text x="147.6" y="498.2" font-size="14.1" text-anchor="end" fill="#222" stroke="#222" stroke-width="0.25">GAPDH</text><line x1="310.5" y1="494.6" x2="327.4" y2="494.6" stroke="#333" stroke-width="1.1"/><text x="330.9" y="499.5" font-size="13.8" text-anchor="start" fill="#222" stroke="#222" stroke-width="0.25">37 kDa</text><text x="143.2" y="553.2" font-size="13.8" text-anchor="end" fill="#222" stroke="#222" stroke-width="0.25">APP/PS1</text><text x="148.4" y="569.5" font-size="14.1" text-anchor="end" fill="#222" stroke="#222" stroke-width="0.25">VB (10 mg/kg)</text><path d="M175.1 545.7 H181.3" stroke="#222" stroke-width="1.9"/><path d="M228 545 H236 M232 541 V549" stroke="#222" stroke-width="1.6"/><path d="M285 544 H293 M289 540 V548" stroke="#222" stroke-width="1.6"/><path d="M175.1 564.8 H181.3" stroke="#222" stroke-width="1.9"/><path d="M228.7 565.8 H234.9" stroke="#222" stroke-width="1.9"/><path d="M285 565.3 H293 M289 561.3 V569.3" stroke="#222" stroke-width="1.6"/><clipPath id="c11"><rect x="152.5" y="575.7" width="158" height="32.6"/></clipPath><g clip-path="url(#c11)"><rect x="152.5" y="575.7" width="158" height="32.6" fill="#eeeeee"/><rect x="157" y="591" width="33" height="4.4" rx="2.2" ry="2.2" fill="#000" fill-opacity="1" filter="url(#b1_1)"/><rect x="168" y="590.4" width="27" height="5.8" rx="2.9" ry="2.9" fill="#000" fill-opacity="1" filter="url(#b1_1)"/><rect x="208.6" y="587.4" width="40.4" height="9.6" rx="4.8" ry="4.8" fill="#000" fill-opacity="1" filter="url(#b1_1)"/><rect x="263.2" y="589.6" width="36.4" height="6.6" rx="3.3" ry="3.3" fill="#000" fill-opacity="1" filter="url(#b1_1)"/></g><rect x="152.5" y="575.7" width="158" height="32.6" fill="none" stroke="#151515" stroke-width="1.25"/><text x="145.7" y="589" font-size="14.1" text-anchor="end" fill="#222" stroke="#222" stroke-width="0.25">p-IKKα+β</text><text x="145.9" y="605.3" font-size="14.1" text-anchor="end" fill="#222" stroke="#222" stroke-width="0.25">(S180/181)</text><line x1="310.5" y1="591.1" x2="324.5" y2="591.1" stroke="#333" stroke-width="1.1"/><text x="328" y="596" font-size="13.8" text-anchor="start" fill="#222" stroke="#222" stroke-width="0.25">85 kDa</text><clipPath id="c12"><rect x="152.5" y="617.2" width="158" height="32.5"/></clipPath><g clip-path="url(#c12)"><rect x="152.5" y="617.2" width="158" height="32.5" fill="#a5a5a5"/><linearGradient id="lg12_1480" x1="0" y1="0" x2="0" y2="1"><stop offset="0" stop-color="#5c5c5c"/><stop offset="0.3" stop-color="#5f5f5f"/><stop offset="0.55" stop-color="#828282"/><stop offset="0.8" stop-color="#b4b4b4"/><stop offset="1" stop-color="#d2d2d2"/></linearGradient><rect x="148" y="615.2" width="167" height="36.5" fill="url(#lg12_1480)" filter="url(#b2_0)"/><rect x="200.5" y="613.2" width="8" height="40.5" fill="#c3c3c3" filter="url(#b2_5)"/><rect x="253.3" y="613.2" width="8" height="40.5" fill="#c3c3c3" filter="url(#b2_5)"/><rect x="152.5" y="613.2" width="5" height="40.5" fill="#bebebe" filter="url(#b1_5)"/><rect x="306.5" y="613.2" width="4" height="40.5" fill="#c3c3c3" filter="url(#b1_5)"/><linearGradient id="lg121_2970" x1="0" y1="0" x2="0" y2="1"><stop offset="0" stop-color="#1e1e1e"/><stop offset="0.8" stop-color="#1e1e1e"/><stop offset="1" stop-color="#3c3c3c"/></linearGradient><rect x="297" y="614.2" width="9" height="23.8" fill="url(#lg121_2970)" filter="url(#b1_8)"/><rect x="158" y="627.9" width="42" height="5" rx="2.5" ry="2.5" fill="#1e1e1e" fill-opacity="1" filter="url(#b1_3)"/><rect x="208" y="628.1" width="44" height="5" rx="2.5" ry="2.5" fill="#262626" fill-opacity="1" filter="url(#b1_3)"/><rect x="262" y="627.9" width="43" height="5.4" rx="2.7" ry="2.7" fill="#1e1e1e" fill-opacity="1" filter="url(#b1_3)"/><rect x="292" y="627.5" width="14" height="9" rx="4.5" ry="4.5" fill="#1e1e1e" fill-opacity="1" filter="url(#b2_0)"/><rect x="152.5" y="617.2" width="158" height="32.5" filter="url(#grain)" opacity="0.07"/><rect x="152.5" y="617.2" width="158" height="32.5" filter="url(#grainw)" opacity="0.07"/></g><rect x="152.5" y="617.2" width="158" height="32.5" fill="none" stroke="#151515" stroke-width="1.25"/><text x="145.7" y="639" font-size="14.1" text-anchor="end" fill="#222" stroke="#222" stroke-width="0.25">IKKα+β</text><line x1="310.5" y1="633.2" x2="324.7" y2="633.2" stroke="#333" stroke-width="1.1"/><text x="328.2" y="639.7" font-size="13.8" text-anchor="start" fill="#222" stroke="#222" stroke-width="0.25">85 kDa</text><clipPath id="c13"><rect x="152.5" y="659.1" width="158" height="33.1"/></clipPath><g clip-path="url(#c13)"><rect x="152.5" y="659.1" width="158" height="33.1" fill="#8c8c8c"/><rect x="195.5" y="655.1" width="11" height="41.1" fill="#b2b2b2" filter="url(#b2_5)"/><rect x="248.8" y="655.1" width="12" height="41.1" fill="#b4b4b4" filter="url(#b2_5)"/><linearGradient id="lg131_1590" x1="0" y1="0" x2="0" y2="1"><stop offset="0" stop-color="#0f0f0f"/><stop offset="0.3" stop-color="#191919"/><stop offset="0.6" stop-color="#3c3c3c"/><stop offset="1" stop-color="#3c3c3c"/></linearGradient><rect x="159" y="670" width="32" height="28" fill="url(#lg131_1590)" filter="url(#b1_8)"/><linearGradient id="lg132_2100" x1="0" y1="0" x2="0" y2="1"><stop offset="0" stop-color="#050505"/><stop offset="1" stop-color="#030303"/></linearGradient><rect x="210" y="667" width="35" height="31" fill="url(#lg132_2100)" filter="url(#b1_6)"/><linearGradient id="lg133_2640" x1="0" y1="0" x2="0" y2="1"><stop offset="0" stop-color="#282828"/><stop offset="0.3" stop-color="#2d2d2d"/><stop offset="0.5" stop-color="#555555"/><stop offset="1" stop-color="#5a5a5a"/></linearGradient><rect x="264" y="671" width="35" height="27" fill="url(#lg133_2640)" filter="url(#b1_8)"/><rect x="152.5" y="659.1" width="158" height="33.1" filter="url(#grain)" opacity="0.07"/><rect x="152.5" y="659.1" width="158" height="33.1" filter="url(#grainw)" opacity="0.07"/></g><rect x="152.5" y="659.1" width="158" height="33.1" fill="none" stroke="#151515" stroke-width="1.25"/><text x="140.6" y="670" font-size="14.1" text-anchor="end" fill="#222" stroke="#222" stroke-width="0.25">p-IκBα</text><text x="146.2" y="688.6" font-size="14.1" text-anchor="end" fill="#222" stroke="#222" stroke-width="0.25">(S32/36)</text><line x1="310.5" y1="675.3" x2="325.4" y2="675.3" stroke="#333" stroke-width="1.1"/><text x="328.9" y="680.2" font-size="13.8" text-anchor="start" fill="#222" stroke="#222" stroke-width="0.25">40 kDa</text><clipPath id="c14"><rect x="152.5" y="701.5" width="158" height="32.7"/></clipPath><g clip-path="url(#c14)"><rect x="152.5" y="701.5" width="158" height="32.7" fill="#ececec"/><rect x="157.4" y="711" width="45.1" height="9.2" rx="4.6" ry="4.6" fill="#000" fill-opacity="1" filter="url(#b1_0)"/><rect x="205" y="712" width="46.5" height="9" rx="4.5" ry="4.5" fill="#000" fill-opacity="1" filter="url(#b1_0)"/><rect x="255.3" y="713.6" width="44.9" height="8.2" rx="4.1" ry="4.1" fill="#000" fill-opacity="1" filter="url(#b1_0)"/><rect x="156" y="731.8" width="144" height="1.6" rx="0.8" ry="0.8" fill="#c3c3c3" fill-opacity="1" filter="url(#b0_8)"/></g><rect x="152.5" y="701.5" width="158" height="32.7" fill="none" stroke="#151515" stroke-width="1.25"/><text x="145.7" y="721.5" font-size="14.1" text-anchor="end" fill="#222" stroke="#222" stroke-width="0.25">IκBα</text><line x1="310.5" y1="717.1" x2="324.7" y2="717.1" stroke="#333" stroke-width="1.1"/><text x="328.2" y="722" font-size="13.8" text-anchor="start" fill="#222" stroke="#222" stroke-width="0.25">35 kDa</text><clipPath id="c15"><rect x="152.5" y="743" width="158" height="32.8"/></clipPath><g clip-path="url(#c15)"><rect x="152.5" y="743" width="158" height="32.8" fill="#e0e0e0"/><rect x="155" y="754" width="41" height="16" rx="8" ry="8" fill="#afafaf" fill-opacity="1" filter="url(#b2_5)"/><rect x="209" y="751" width="44" height="16" rx="8" ry="8" fill="#aaaaaa" fill-opacity="1" filter="url(#b2_5)"/><rect x="265" y="750" width="41" height="16" rx="8" ry="8" fill="#b4b4b4" fill-opacity="1" filter="url(#b2_5)"/><rect x="155" y="755.5" width="41.2" height="4.2" rx="2.1" ry="2.1" fill="#5f5f5f" fill-opacity="1" filter="url(#b1_4)"/><rect x="155" y="760.2" width="41.2" height="6.6" rx="3.3" ry="3.3" fill="#050505" fill-opacity="1" filter="url(#b1_4)"/><rect x="208.6" y="752.5" width="43.7" height="5" rx="2.5" ry="2.5" fill="#1e1e1e" fill-opacity="1" filter="url(#b1_4)"/><rect x="208.6" y="757.9" width="43.7" height="7" rx="3.5" ry="3.5" fill="#000" fill-opacity="1" filter="url(#b1_4)"/><rect x="264.7" y="751.6" width="41.3" height="4" rx="2" ry="2" fill="#5f5f5f" fill-opacity="1" filter="url(#b1_4)"/><rect x="264.7" y="756.9" width="41.3" height="6" rx="3" ry="3" fill="#232323" fill-opacity="1" filter="url(#b1_4)"/><rect x="152.5" y="743" width="158" height="32.8" filter="url(#grain)" opacity="0.03"/><rect x="152.5" y="743" width="158" height="32.8" filter="url(#grainw)" opacity="0.03"/></g><rect x="152.5" y="743" width="158" height="32.8" fill="none" stroke="#151515" stroke-width="1.25"/><text x="145.7" y="755.2" font-size="14.1" text-anchor="end" fill="#222" stroke="#222" stroke-width="0.25">p-NF-κB-p65</text><text x="146" y="773.2" font-size="14.1" text-anchor="end" fill="#222" stroke="#222" stroke-width="0.25">(S536)</text><line x1="310.5" y1="761.9" x2="324.7" y2="761.9" stroke="#333" stroke-width="1.1"/><text x="328.2" y="765.8" font-size="13.8" text-anchor="start" fill="#222" stroke="#222" stroke-width="0.25">65 kDa</text><clipPath id="c16"><rect x="152.5" y="784.9" width="158" height="33.1"/></clipPath><g clip-path="url(#c16)"><rect x="152.5" y="784.9" width="158" height="33.1" fill="#afafaf"/><rect x="153" y="780.9" width="8" height="41.1" fill="#cdcdcd" filter="url(#b2_0)"/><rect x="202" y="780.9" width="8" height="41.1" fill="#c8c8c8" filter="url(#b2_5)"/><rect x="250" y="780.9" width="8" height="41.1" fill="#c8c8c8" filter="url(#b2_5)"/><linearGradient id="lg161_1630" x1="0" y1="0" x2="0" y2="1"><stop offset="0" stop-color="#878787"/><stop offset="1" stop-color="#919191"/></linearGradient><rect x="163" y="806" width="40" height="16" fill="url(#lg161_1630)" filter="url(#b2_2)"/><linearGradient id="lg162_2100" x1="0" y1="0" x2="0" y2="1"><stop offset="0" stop-color="#919191"/><stop offset="1" stop-color="#969696"/></linearGradient><rect x="210" y="806" width="40" height="16" fill="url(#lg162_2100)" filter="url(#b2_2)"/><linearGradient id="lg163_2580" x1="0" y1="0" x2="0" y2="1"><stop offset="0" stop-color="#949494"/><stop offset="1" stop-color="#989898"/></linearGradient><rect x="258" y="806" width="41" height="16" fill="url(#lg163_2580)" filter="url(#b2_2)"/><rect x="163.2" y="800.7" width="39.6" height="4.2" rx="2.1" ry="2.1" fill="#0a0a0a" fill-opacity="1" filter="url(#b1_0)"/><rect x="210.2" y="800.2" width="39.6" height="4.6" rx="2.3" ry="2.3" fill="#0a0a0a" fill-opacity="1" filter="url(#b1_0)"/><rect x="258" y="800.8" width="40.5" height="4" rx="2" ry="2" fill="#0f0f0f" fill-opacity="1" filter="url(#b1_0)"/><rect x="152.5" y="784.9" width="158" height="33.1" filter="url(#grain)" opacity="0.06"/><rect x="152.5" y="784.9" width="158" height="33.1" filter="url(#grainw)" opacity="0.06"/></g><rect x="152.5" y="784.9" width="158" height="33.1" fill="none" stroke="#151515" stroke-width="1.25"/><text x="145.7" y="806.3" font-size="14.1" text-anchor="end" fill="#222" stroke="#222" stroke-width="0.25">NF-κB-p65</text><line x1="310.5" y1="804.4" x2="324.7" y2="804.4" stroke="#333" stroke-width="1.1"/><text x="328.2" y="810.3" font-size="13.8" text-anchor="start" fill="#222" stroke="#222" stroke-width="0.25">65 kDa</text><clipPath id="c17"><rect x="152.5" y="826.3" width="158" height="33"/></clipPath><g clip-path="url(#c17)"><rect x="152.5" y="826.3" width="158" height="33" fill="#ececec"/><rect x="162" y="831.5" width="41" height="6" rx="3" ry="3" fill="#d7d7d7" fill-opacity="1" filter="url(#b2_0)"/><rect x="211" y="832" width="40" height="6" rx="3" ry="3" fill="#dadada" fill-opacity="1" filter="url(#b2_0)"/><rect x="258" y="832" width="43" height="6" rx="3" ry="3" fill="#dadada" fill-opacity="1" filter="url(#b2_0)"/><rect x="161.6" y="838.4" width="41.2" height="8.2" rx="4.1" ry="4.1" fill="#000" fill-opacity="1" filter="url(#b1_0)"/><rect x="211" y="839.4" width="40" height="7.8" rx="3.9" ry="3.9" fill="#000" fill-opacity="1" filter="url(#b1_0)"/><rect x="258" y="839.1" width="43" height="8.6" rx="4.3" ry="4.3" fill="#000" fill-opacity="1" filter="url(#b1_0)"/></g><rect x="152.5" y="826.3" width="158" height="33" fill="none" stroke="#151515" stroke-width="1.25"/><text x="146.6" y="847.2" font-size="14.1" text-anchor="end" fill="#222" stroke="#222" stroke-width="0.25">GAPDH</text><line x1="310.5" y1="843.4" x2="323" y2="843.4" stroke="#333" stroke-width="1.1"/><text x="326.5" y="848.3" font-size="13.8" text-anchor="start" fill="#222" stroke="#222" stroke-width="0.25">37 kDa</text><circle cx="24.5" cy="312.5" r="0.9" fill="#777"/>
</svg>
</body></html>
